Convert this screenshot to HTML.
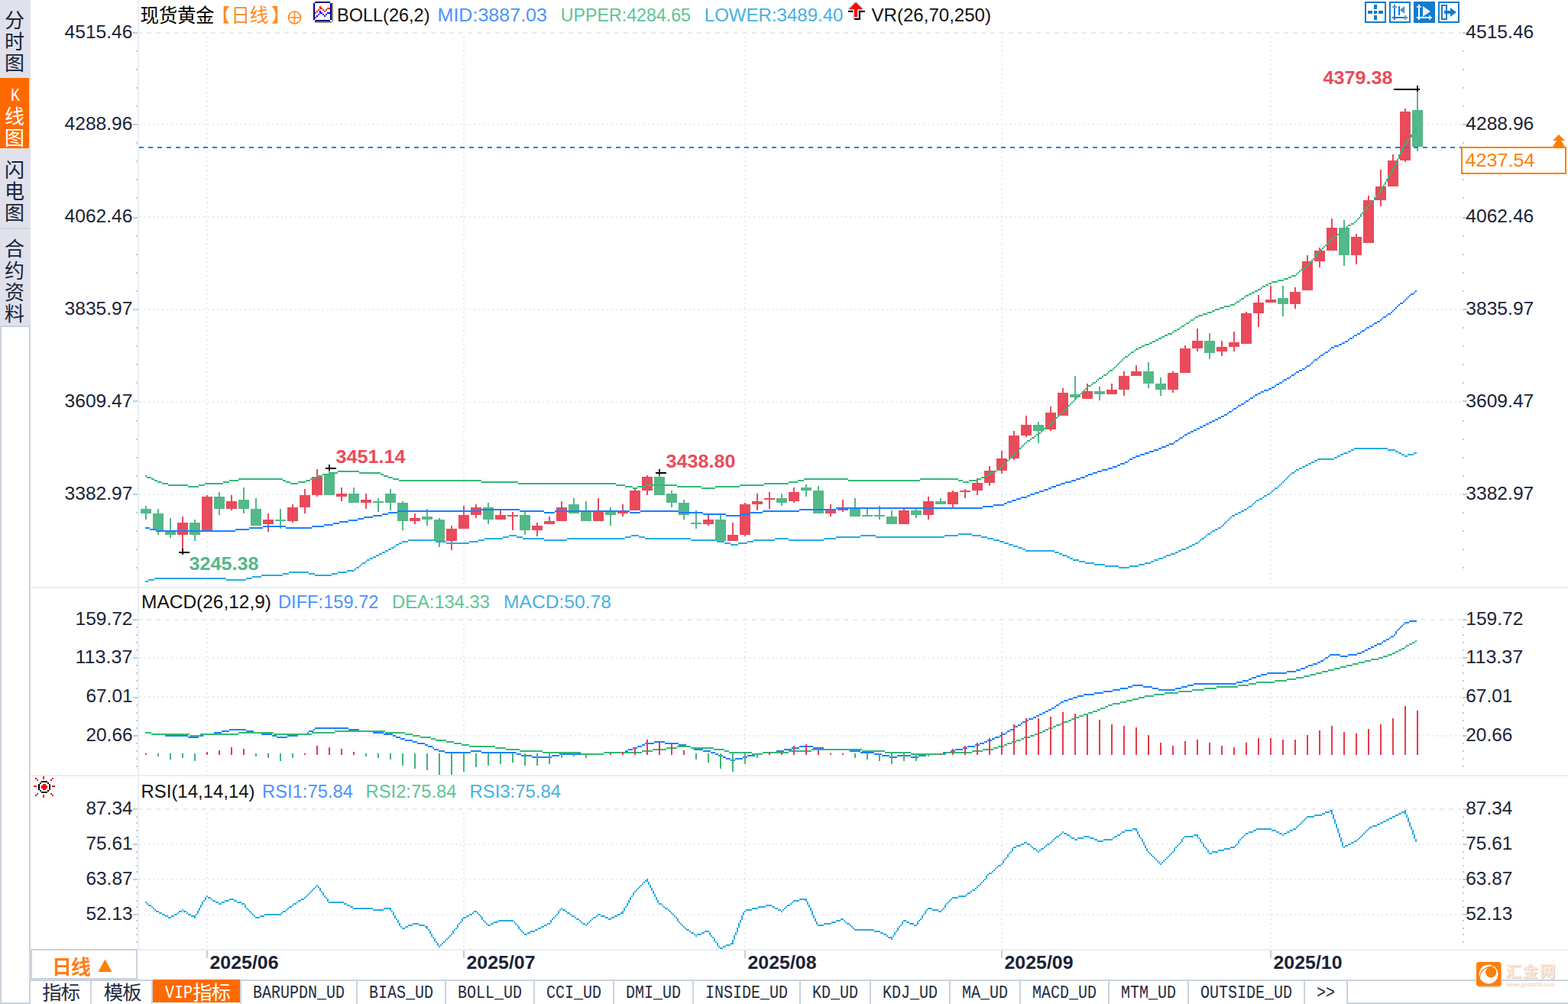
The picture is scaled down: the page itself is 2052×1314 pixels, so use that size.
<!DOCTYPE html>
<html><head><meta charset="utf-8"><title>chart</title>
<style>html,body{margin:0;padding:0;background:#fff}body{width:2052px;height:1314px;overflow:hidden;font-family:"Liberation Sans",sans-serif}</style>
</head><body>
<svg width="2052" height="1314" viewBox="0 0 2052 1314" font-family="Liberation Sans, sans-serif" style="display:block">
<rect x="0" y="0" width="2052" height="1314" fill="#fff" />
<g shape-rendering="crispEdges">
<rect x="40" y="768" width="2012" height="2" fill="#e9eef4" />
<rect x="40" y="1014" width="2012" height="2" fill="#e9eef4" />
<rect x="180" y="1242" width="1872" height="2" fill="#e9eef4" />
<line x1="180" y1="43" x2="1912" y2="43" stroke="#e6ebf0" stroke-width="2" stroke-dasharray="6 6"/>
<line x1="182" y1="163" x2="1912" y2="163" stroke="#e6ebf0" stroke-width="2" stroke-dasharray="2 4"/>
<line x1="182" y1="284" x2="1912" y2="284" stroke="#e6ebf0" stroke-width="2" stroke-dasharray="2 4"/>
<line x1="182" y1="405" x2="1912" y2="405" stroke="#e6ebf0" stroke-width="2" stroke-dasharray="2 4"/>
<line x1="182" y1="526" x2="1912" y2="526" stroke="#e6ebf0" stroke-width="2" stroke-dasharray="2 4"/>
<line x1="182" y1="647" x2="1912" y2="647" stroke="#e6ebf0" stroke-width="2" stroke-dasharray="2 4"/>
<line x1="180" y1="811" x2="1912" y2="811" stroke="#e6ebf0" stroke-width="2" stroke-dasharray="6 6"/>
<line x1="182" y1="861" x2="1912" y2="861" stroke="#e6ebf0" stroke-width="2" stroke-dasharray="2 4"/>
<line x1="182" y1="912" x2="1912" y2="912" stroke="#e6ebf0" stroke-width="2" stroke-dasharray="2 4"/>
<line x1="182" y1="963" x2="1912" y2="963" stroke="#e6ebf0" stroke-width="2" stroke-dasharray="2 4"/>
<line x1="180" y1="1059" x2="1912" y2="1059" stroke="#e6ebf0" stroke-width="2" stroke-dasharray="6 6"/>
<line x1="182" y1="1105" x2="1912" y2="1105" stroke="#e6ebf0" stroke-width="2" stroke-dasharray="2 4"/>
<line x1="182" y1="1151" x2="1912" y2="1151" stroke="#e6ebf0" stroke-width="2" stroke-dasharray="2 4"/>
<line x1="182" y1="1197" x2="1912" y2="1197" stroke="#e6ebf0" stroke-width="2" stroke-dasharray="2 4"/>
<rect x="180" y="0" width="2" height="1242" fill="#e9eef4" />
<line x1="271" y1="48" x2="271" y2="766" stroke="#e6ebf0" stroke-width="2" stroke-dasharray="2 4"/>
<line x1="271" y1="816" x2="271" y2="1012" stroke="#e6ebf0" stroke-width="2" stroke-dasharray="2 4"/>
<line x1="271" y1="1064" x2="271" y2="1240" stroke="#e6ebf0" stroke-width="2" stroke-dasharray="2 4"/>
<line x1="607" y1="48" x2="607" y2="766" stroke="#e6ebf0" stroke-width="2" stroke-dasharray="2 4"/>
<line x1="607" y1="816" x2="607" y2="1012" stroke="#e6ebf0" stroke-width="2" stroke-dasharray="2 4"/>
<line x1="607" y1="1064" x2="607" y2="1240" stroke="#e6ebf0" stroke-width="2" stroke-dasharray="2 4"/>
<line x1="975" y1="48" x2="975" y2="766" stroke="#e6ebf0" stroke-width="2" stroke-dasharray="2 4"/>
<line x1="975" y1="816" x2="975" y2="1012" stroke="#e6ebf0" stroke-width="2" stroke-dasharray="2 4"/>
<line x1="975" y1="1064" x2="975" y2="1240" stroke="#e6ebf0" stroke-width="2" stroke-dasharray="2 4"/>
<line x1="1311" y1="48" x2="1311" y2="766" stroke="#e6ebf0" stroke-width="2" stroke-dasharray="2 4"/>
<line x1="1311" y1="816" x2="1311" y2="1012" stroke="#e6ebf0" stroke-width="2" stroke-dasharray="2 4"/>
<line x1="1311" y1="1064" x2="1311" y2="1240" stroke="#e6ebf0" stroke-width="2" stroke-dasharray="2 4"/>
<line x1="1663" y1="48" x2="1663" y2="766" stroke="#e6ebf0" stroke-width="2" stroke-dasharray="2 4"/>
<line x1="1663" y1="816" x2="1663" y2="1012" stroke="#e6ebf0" stroke-width="2" stroke-dasharray="2 4"/>
<line x1="1663" y1="1064" x2="1663" y2="1240" stroke="#e6ebf0" stroke-width="2" stroke-dasharray="2 4"/>
<rect x="174" y="42" width="6" height="2" fill="#c5cad3" />
<rect x="1914" y="42" width="6" height="2" fill="#c5cad3" />
<rect x="178" y="66" width="2" height="2" fill="#c5cad3" />
<rect x="1914" y="66" width="2" height="2" fill="#c5cad3" />
<rect x="178" y="90" width="2" height="2" fill="#c5cad3" />
<rect x="1914" y="90" width="2" height="2" fill="#c5cad3" />
<rect x="178" y="114" width="2" height="2" fill="#c5cad3" />
<rect x="1914" y="114" width="2" height="2" fill="#c5cad3" />
<rect x="178" y="138" width="2" height="2" fill="#c5cad3" />
<rect x="1914" y="138" width="2" height="2" fill="#c5cad3" />
<rect x="174" y="162" width="6" height="2" fill="#c5cad3" />
<rect x="1914" y="162" width="6" height="2" fill="#c5cad3" />
<rect x="178" y="186" width="2" height="2" fill="#c5cad3" />
<rect x="1914" y="186" width="2" height="2" fill="#c5cad3" />
<rect x="178" y="210" width="2" height="2" fill="#c5cad3" />
<rect x="1914" y="210" width="2" height="2" fill="#c5cad3" />
<rect x="178" y="234" width="2" height="2" fill="#c5cad3" />
<rect x="1914" y="234" width="2" height="2" fill="#c5cad3" />
<rect x="178" y="258" width="2" height="2" fill="#c5cad3" />
<rect x="1914" y="258" width="2" height="2" fill="#c5cad3" />
<rect x="174" y="284" width="6" height="2" fill="#c5cad3" />
<rect x="1914" y="284" width="6" height="2" fill="#c5cad3" />
<rect x="178" y="308" width="2" height="2" fill="#c5cad3" />
<rect x="1914" y="308" width="2" height="2" fill="#c5cad3" />
<rect x="178" y="332" width="2" height="2" fill="#c5cad3" />
<rect x="1914" y="332" width="2" height="2" fill="#c5cad3" />
<rect x="178" y="356" width="2" height="2" fill="#c5cad3" />
<rect x="1914" y="356" width="2" height="2" fill="#c5cad3" />
<rect x="178" y="380" width="2" height="2" fill="#c5cad3" />
<rect x="1914" y="380" width="2" height="2" fill="#c5cad3" />
<rect x="174" y="404" width="6" height="2" fill="#c5cad3" />
<rect x="1914" y="404" width="6" height="2" fill="#c5cad3" />
<rect x="178" y="428" width="2" height="2" fill="#c5cad3" />
<rect x="1914" y="428" width="2" height="2" fill="#c5cad3" />
<rect x="178" y="452" width="2" height="2" fill="#c5cad3" />
<rect x="1914" y="452" width="2" height="2" fill="#c5cad3" />
<rect x="178" y="476" width="2" height="2" fill="#c5cad3" />
<rect x="1914" y="476" width="2" height="2" fill="#c5cad3" />
<rect x="178" y="500" width="2" height="2" fill="#c5cad3" />
<rect x="1914" y="500" width="2" height="2" fill="#c5cad3" />
<rect x="174" y="524" width="6" height="2" fill="#c5cad3" />
<rect x="1914" y="524" width="6" height="2" fill="#c5cad3" />
<rect x="178" y="550" width="2" height="2" fill="#c5cad3" />
<rect x="1914" y="550" width="2" height="2" fill="#c5cad3" />
<rect x="178" y="574" width="2" height="2" fill="#c5cad3" />
<rect x="1914" y="574" width="2" height="2" fill="#c5cad3" />
<rect x="178" y="598" width="2" height="2" fill="#c5cad3" />
<rect x="1914" y="598" width="2" height="2" fill="#c5cad3" />
<rect x="178" y="622" width="2" height="2" fill="#c5cad3" />
<rect x="1914" y="622" width="2" height="2" fill="#c5cad3" />
<rect x="174" y="646" width="6" height="2" fill="#c5cad3" />
<rect x="1914" y="646" width="6" height="2" fill="#c5cad3" />
<rect x="178" y="670" width="2" height="2" fill="#c5cad3" />
<rect x="1914" y="670" width="2" height="2" fill="#c5cad3" />
<rect x="178" y="694" width="2" height="2" fill="#c5cad3" />
<rect x="1914" y="694" width="2" height="2" fill="#c5cad3" />
<rect x="178" y="718" width="2" height="2" fill="#c5cad3" />
<rect x="1914" y="718" width="2" height="2" fill="#c5cad3" />
<rect x="178" y="742" width="2" height="2" fill="#c5cad3" />
<rect x="1914" y="742" width="2" height="2" fill="#c5cad3" />
<rect x="174" y="810" width="6" height="2" fill="#c5cad3" />
<rect x="1914" y="810" width="6" height="2" fill="#c5cad3" />
<rect x="178" y="820" width="2" height="2" fill="#c5cad3" />
<rect x="1914" y="820" width="2" height="2" fill="#c5cad3" />
<rect x="178" y="830" width="2" height="2" fill="#c5cad3" />
<rect x="1914" y="830" width="2" height="2" fill="#c5cad3" />
<rect x="178" y="840" width="2" height="2" fill="#c5cad3" />
<rect x="1914" y="840" width="2" height="2" fill="#c5cad3" />
<rect x="178" y="850" width="2" height="2" fill="#c5cad3" />
<rect x="1914" y="850" width="2" height="2" fill="#c5cad3" />
<rect x="174" y="860" width="6" height="2" fill="#c5cad3" />
<rect x="1914" y="860" width="6" height="2" fill="#c5cad3" />
<rect x="178" y="870" width="2" height="2" fill="#c5cad3" />
<rect x="1914" y="870" width="2" height="2" fill="#c5cad3" />
<rect x="178" y="880" width="2" height="2" fill="#c5cad3" />
<rect x="1914" y="880" width="2" height="2" fill="#c5cad3" />
<rect x="178" y="890" width="2" height="2" fill="#c5cad3" />
<rect x="1914" y="890" width="2" height="2" fill="#c5cad3" />
<rect x="178" y="900" width="2" height="2" fill="#c5cad3" />
<rect x="1914" y="900" width="2" height="2" fill="#c5cad3" />
<rect x="174" y="912" width="6" height="2" fill="#c5cad3" />
<rect x="1914" y="912" width="6" height="2" fill="#c5cad3" />
<rect x="178" y="922" width="2" height="2" fill="#c5cad3" />
<rect x="1914" y="922" width="2" height="2" fill="#c5cad3" />
<rect x="178" y="932" width="2" height="2" fill="#c5cad3" />
<rect x="1914" y="932" width="2" height="2" fill="#c5cad3" />
<rect x="178" y="942" width="2" height="2" fill="#c5cad3" />
<rect x="1914" y="942" width="2" height="2" fill="#c5cad3" />
<rect x="178" y="952" width="2" height="2" fill="#c5cad3" />
<rect x="1914" y="952" width="2" height="2" fill="#c5cad3" />
<rect x="174" y="962" width="6" height="2" fill="#c5cad3" />
<rect x="1914" y="962" width="6" height="2" fill="#c5cad3" />
<rect x="178" y="972" width="2" height="2" fill="#c5cad3" />
<rect x="1914" y="972" width="2" height="2" fill="#c5cad3" />
<rect x="178" y="982" width="2" height="2" fill="#c5cad3" />
<rect x="1914" y="982" width="2" height="2" fill="#c5cad3" />
<rect x="178" y="992" width="2" height="2" fill="#c5cad3" />
<rect x="1914" y="992" width="2" height="2" fill="#c5cad3" />
<rect x="178" y="1002" width="2" height="2" fill="#c5cad3" />
<rect x="1914" y="1002" width="2" height="2" fill="#c5cad3" />
<rect x="174" y="1058" width="6" height="2" fill="#c5cad3" />
<rect x="1914" y="1058" width="6" height="2" fill="#c5cad3" />
<rect x="178" y="1068" width="2" height="2" fill="#c5cad3" />
<rect x="1914" y="1068" width="2" height="2" fill="#c5cad3" />
<rect x="178" y="1076" width="2" height="2" fill="#c5cad3" />
<rect x="1914" y="1076" width="2" height="2" fill="#c5cad3" />
<rect x="178" y="1086" width="2" height="2" fill="#c5cad3" />
<rect x="1914" y="1086" width="2" height="2" fill="#c5cad3" />
<rect x="178" y="1094" width="2" height="2" fill="#c5cad3" />
<rect x="1914" y="1094" width="2" height="2" fill="#c5cad3" />
<rect x="174" y="1104" width="6" height="2" fill="#c5cad3" />
<rect x="1914" y="1104" width="6" height="2" fill="#c5cad3" />
<rect x="178" y="1114" width="2" height="2" fill="#c5cad3" />
<rect x="1914" y="1114" width="2" height="2" fill="#c5cad3" />
<rect x="178" y="1122" width="2" height="2" fill="#c5cad3" />
<rect x="1914" y="1122" width="2" height="2" fill="#c5cad3" />
<rect x="178" y="1132" width="2" height="2" fill="#c5cad3" />
<rect x="1914" y="1132" width="2" height="2" fill="#c5cad3" />
<rect x="178" y="1140" width="2" height="2" fill="#c5cad3" />
<rect x="1914" y="1140" width="2" height="2" fill="#c5cad3" />
<rect x="174" y="1150" width="6" height="2" fill="#c5cad3" />
<rect x="1914" y="1150" width="6" height="2" fill="#c5cad3" />
<rect x="178" y="1160" width="2" height="2" fill="#c5cad3" />
<rect x="1914" y="1160" width="2" height="2" fill="#c5cad3" />
<rect x="178" y="1168" width="2" height="2" fill="#c5cad3" />
<rect x="1914" y="1168" width="2" height="2" fill="#c5cad3" />
<rect x="178" y="1178" width="2" height="2" fill="#c5cad3" />
<rect x="1914" y="1178" width="2" height="2" fill="#c5cad3" />
<rect x="178" y="1186" width="2" height="2" fill="#c5cad3" />
<rect x="1914" y="1186" width="2" height="2" fill="#c5cad3" />
<rect x="174" y="1196" width="6" height="2" fill="#c5cad3" />
<rect x="1914" y="1196" width="6" height="2" fill="#c5cad3" />
<rect x="178" y="1204" width="2" height="2" fill="#c5cad3" />
<rect x="1914" y="1204" width="2" height="2" fill="#c5cad3" />
<rect x="178" y="1214" width="2" height="2" fill="#c5cad3" />
<rect x="1914" y="1214" width="2" height="2" fill="#c5cad3" />
<rect x="178" y="1222" width="2" height="2" fill="#c5cad3" />
<rect x="1914" y="1222" width="2" height="2" fill="#c5cad3" />
<rect x="178" y="1232" width="2" height="2" fill="#c5cad3" />
<rect x="1914" y="1232" width="2" height="2" fill="#c5cad3" />
</g>
<text x="173.5" y="50" font-size="24" fill="#1b2236" text-anchor="end" textLength="89" lengthAdjust="spacingAndGlyphs" >4515.46</text>
<text x="1918.3" y="50" font-size="24" fill="#1b2236" textLength="89" lengthAdjust="spacingAndGlyphs" >4515.46</text>
<text x="173.5" y="170" font-size="24" fill="#1b2236" text-anchor="end" textLength="89" lengthAdjust="spacingAndGlyphs" >4288.96</text>
<text x="1918.3" y="170" font-size="24" fill="#1b2236" textLength="89" lengthAdjust="spacingAndGlyphs" >4288.96</text>
<text x="173.5" y="291" font-size="24" fill="#1b2236" text-anchor="end" textLength="89" lengthAdjust="spacingAndGlyphs" >4062.46</text>
<text x="1918.3" y="291" font-size="24" fill="#1b2236" textLength="89" lengthAdjust="spacingAndGlyphs" >4062.46</text>
<text x="173.5" y="412" font-size="24" fill="#1b2236" text-anchor="end" textLength="89" lengthAdjust="spacingAndGlyphs" >3835.97</text>
<text x="1918.3" y="412" font-size="24" fill="#1b2236" textLength="89" lengthAdjust="spacingAndGlyphs" >3835.97</text>
<text x="173.5" y="533" font-size="24" fill="#1b2236" text-anchor="end" textLength="89" lengthAdjust="spacingAndGlyphs" >3609.47</text>
<text x="1918.3" y="533" font-size="24" fill="#1b2236" textLength="89" lengthAdjust="spacingAndGlyphs" >3609.47</text>
<text x="173.5" y="654" font-size="24" fill="#1b2236" text-anchor="end" textLength="89" lengthAdjust="spacingAndGlyphs" >3382.97</text>
<text x="1918.3" y="654" font-size="24" fill="#1b2236" textLength="89" lengthAdjust="spacingAndGlyphs" >3382.97</text>
<text x="173.5" y="818" font-size="24" fill="#1b2236" text-anchor="end" textLength="75" lengthAdjust="spacingAndGlyphs" >159.72</text>
<text x="1918.3" y="818" font-size="24" fill="#1b2236" textLength="75" lengthAdjust="spacingAndGlyphs" >159.72</text>
<text x="173.5" y="868" font-size="24" fill="#1b2236" text-anchor="end" textLength="75" lengthAdjust="spacingAndGlyphs" >113.37</text>
<text x="1918.3" y="868" font-size="24" fill="#1b2236" textLength="75" lengthAdjust="spacingAndGlyphs" >113.37</text>
<text x="173.5" y="919" font-size="24" fill="#1b2236" text-anchor="end" textLength="61" lengthAdjust="spacingAndGlyphs" >67.01</text>
<text x="1918.3" y="919" font-size="24" fill="#1b2236" textLength="61" lengthAdjust="spacingAndGlyphs" >67.01</text>
<text x="173.5" y="970" font-size="24" fill="#1b2236" text-anchor="end" textLength="61" lengthAdjust="spacingAndGlyphs" >20.66</text>
<text x="1918.3" y="970" font-size="24" fill="#1b2236" textLength="61" lengthAdjust="spacingAndGlyphs" >20.66</text>
<text x="173.5" y="1066" font-size="24" fill="#1b2236" text-anchor="end" textLength="61" lengthAdjust="spacingAndGlyphs" >87.34</text>
<text x="1918.3" y="1066" font-size="24" fill="#1b2236" textLength="61" lengthAdjust="spacingAndGlyphs" >87.34</text>
<text x="173.5" y="1112" font-size="24" fill="#1b2236" text-anchor="end" textLength="61" lengthAdjust="spacingAndGlyphs" >75.61</text>
<text x="1918.3" y="1112" font-size="24" fill="#1b2236" textLength="61" lengthAdjust="spacingAndGlyphs" >75.61</text>
<text x="173.5" y="1158" font-size="24" fill="#1b2236" text-anchor="end" textLength="61" lengthAdjust="spacingAndGlyphs" >63.87</text>
<text x="1918.3" y="1158" font-size="24" fill="#1b2236" textLength="61" lengthAdjust="spacingAndGlyphs" >63.87</text>
<text x="173.5" y="1204" font-size="24" fill="#1b2236" text-anchor="end" textLength="61" lengthAdjust="spacingAndGlyphs" >52.13</text>
<text x="1918.3" y="1204" font-size="24" fill="#1b2236" textLength="61" lengthAdjust="spacingAndGlyphs" >52.13</text>
<g shape-rendering="crispEdges">
<rect x="190" y="662" width="2" height="18" fill="#54b888" />
<rect x="184" y="666" width="14" height="6" fill="#54b888" />
<rect x="206" y="666" width="2" height="34" fill="#54b888" />
<rect x="200" y="672" width="14" height="22" fill="#54b888" />
<rect x="222" y="678" width="2" height="26" fill="#54b888" />
<rect x="216" y="694" width="14" height="6" fill="#54b888" />
<rect x="238" y="676" width="2" height="42" fill="#e94b5b" />
<rect x="232" y="684" width="14" height="16" fill="#e94b5b" />
<rect x="254" y="680" width="2" height="28" fill="#54b888" />
<rect x="248" y="684" width="14" height="16" fill="#54b888" />
<rect x="270" y="648" width="2" height="46" fill="#e94b5b" />
<rect x="264" y="650" width="14" height="44" fill="#e94b5b" />
<rect x="286" y="644" width="2" height="30" fill="#54b888" />
<rect x="280" y="650" width="14" height="16" fill="#54b888" />
<rect x="302" y="648" width="2" height="20" fill="#e94b5b" />
<rect x="296" y="656" width="14" height="10" fill="#e94b5b" />
<rect x="318" y="638" width="2" height="34" fill="#54b888" />
<rect x="312" y="654" width="14" height="12" fill="#54b888" />
<rect x="334" y="652" width="2" height="36" fill="#54b888" />
<rect x="328" y="666" width="14" height="22" fill="#54b888" />
<rect x="350" y="672" width="2" height="24" fill="#e94b5b" />
<rect x="344" y="680" width="14" height="6" fill="#e94b5b" />
<rect x="366" y="666" width="2" height="26" fill="#54b888" />
<rect x="360" y="680" width="14" height="2" fill="#54b888" />
<rect x="382" y="660" width="2" height="24" fill="#e94b5b" />
<rect x="376" y="664" width="14" height="18" fill="#e94b5b" />
<rect x="398" y="640" width="2" height="32" fill="#e94b5b" />
<rect x="392" y="648" width="14" height="16" fill="#e94b5b" />
<rect x="414" y="614" width="2" height="36" fill="#e94b5b" />
<rect x="408" y="624" width="14" height="24" fill="#e94b5b" />
<rect x="430" y="614" width="2" height="34" fill="#54b888" />
<rect x="424" y="620" width="14" height="28" fill="#54b888" />
<rect x="446" y="638" width="2" height="18" fill="#e94b5b" />
<rect x="440" y="646" width="14" height="4" fill="#e94b5b" />
<rect x="462" y="638" width="2" height="20" fill="#54b888" />
<rect x="456" y="646" width="14" height="12" fill="#54b888" />
<rect x="478" y="646" width="2" height="20" fill="#e94b5b" />
<rect x="472" y="654" width="14" height="4" fill="#e94b5b" />
<rect x="494" y="652" width="2" height="18" fill="#54b888" />
<rect x="488" y="656" width="14" height="2" fill="#54b888" />
<rect x="510" y="640" width="2" height="28" fill="#54b888" />
<rect x="504" y="646" width="14" height="12" fill="#54b888" />
<rect x="526" y="656" width="2" height="38" fill="#54b888" />
<rect x="520" y="658" width="14" height="24" fill="#54b888" />
<rect x="542" y="672" width="2" height="14" fill="#e94b5b" />
<rect x="536" y="678" width="14" height="4" fill="#e94b5b" />
<rect x="558" y="666" width="2" height="22" fill="#54b888" />
<rect x="552" y="676" width="14" height="4" fill="#54b888" />
<rect x="574" y="678" width="2" height="38" fill="#54b888" />
<rect x="568" y="680" width="14" height="28" fill="#54b888" />
<rect x="590" y="688" width="2" height="32" fill="#e94b5b" />
<rect x="584" y="692" width="14" height="16" fill="#e94b5b" />
<rect x="606" y="662" width="2" height="30" fill="#e94b5b" />
<rect x="600" y="674" width="14" height="18" fill="#e94b5b" />
<rect x="622" y="660" width="2" height="18" fill="#e94b5b" />
<rect x="616" y="664" width="14" height="10" fill="#e94b5b" />
<rect x="638" y="658" width="2" height="28" fill="#54b888" />
<rect x="632" y="664" width="14" height="16" fill="#54b888" />
<rect x="654" y="668" width="2" height="12" fill="#e94b5b" />
<rect x="648" y="674" width="14" height="6" fill="#e94b5b" />
<rect x="670" y="670" width="2" height="24" fill="#e94b5b" />
<rect x="664" y="674" width="14" height="2" fill="#e94b5b" />
<rect x="686" y="670" width="2" height="30" fill="#54b888" />
<rect x="680" y="674" width="14" height="20" fill="#54b888" />
<rect x="702" y="684" width="2" height="18" fill="#e94b5b" />
<rect x="696" y="688" width="14" height="6" fill="#e94b5b" />
<rect x="718" y="676" width="2" height="10" fill="#e94b5b" />
<rect x="712" y="682" width="14" height="4" fill="#e94b5b" />
<rect x="734" y="656" width="2" height="26" fill="#e94b5b" />
<rect x="728" y="664" width="14" height="18" fill="#e94b5b" />
<rect x="750" y="652" width="2" height="20" fill="#54b888" />
<rect x="744" y="660" width="14" height="12" fill="#54b888" />
<rect x="766" y="656" width="2" height="26" fill="#54b888" />
<rect x="760" y="670" width="14" height="12" fill="#54b888" />
<rect x="782" y="652" width="2" height="30" fill="#e94b5b" />
<rect x="776" y="670" width="14" height="12" fill="#e94b5b" />
<rect x="798" y="664" width="2" height="24" fill="#54b888" />
<rect x="792" y="670" width="14" height="4" fill="#54b888" />
<rect x="814" y="660" width="2" height="16" fill="#e94b5b" />
<rect x="808" y="670" width="14" height="2" fill="#e94b5b" />
<rect x="830" y="640" width="2" height="28" fill="#e94b5b" />
<rect x="824" y="642" width="14" height="26" fill="#e94b5b" />
<rect x="846" y="622" width="2" height="26" fill="#e94b5b" />
<rect x="840" y="624" width="14" height="18" fill="#e94b5b" />
<rect x="862" y="620" width="2" height="28" fill="#54b888" />
<rect x="856" y="624" width="14" height="24" fill="#54b888" />
<rect x="878" y="642" width="2" height="22" fill="#54b888" />
<rect x="872" y="646" width="14" height="12" fill="#54b888" />
<rect x="894" y="654" width="2" height="26" fill="#54b888" />
<rect x="888" y="658" width="14" height="16" fill="#54b888" />
<rect x="910" y="668" width="2" height="24" fill="#54b888" />
<rect x="904" y="684" width="14" height="2" fill="#54b888" />
<rect x="926" y="674" width="2" height="14" fill="#e94b5b" />
<rect x="920" y="680" width="14" height="6" fill="#e94b5b" />
<rect x="942" y="674" width="2" height="34" fill="#54b888" />
<rect x="936" y="680" width="14" height="28" fill="#54b888" />
<rect x="958" y="684" width="2" height="24" fill="#e94b5b" />
<rect x="952" y="700" width="14" height="8" fill="#e94b5b" />
<rect x="974" y="658" width="2" height="44" fill="#e94b5b" />
<rect x="968" y="660" width="14" height="40" fill="#e94b5b" />
<rect x="990" y="646" width="2" height="22" fill="#e94b5b" />
<rect x="984" y="656" width="14" height="4" fill="#e94b5b" />
<rect x="1006" y="644" width="2" height="22" fill="#e94b5b" />
<rect x="1000" y="652" width="14" height="2" fill="#e94b5b" />
<rect x="1022" y="646" width="2" height="16" fill="#54b888" />
<rect x="1016" y="652" width="14" height="6" fill="#54b888" />
<rect x="1038" y="638" width="2" height="20" fill="#e94b5b" />
<rect x="1032" y="644" width="14" height="12" fill="#e94b5b" />
<rect x="1054" y="634" width="2" height="16" fill="#54b888" />
<rect x="1048" y="638" width="14" height="4" fill="#54b888" />
<rect x="1070" y="636" width="2" height="36" fill="#54b888" />
<rect x="1064" y="642" width="14" height="30" fill="#54b888" />
<rect x="1086" y="660" width="2" height="16" fill="#e94b5b" />
<rect x="1080" y="666" width="14" height="6" fill="#e94b5b" />
<rect x="1102" y="654" width="2" height="16" fill="#e94b5b" />
<rect x="1096" y="664" width="14" height="4" fill="#e94b5b" />
<rect x="1118" y="652" width="2" height="24" fill="#54b888" />
<rect x="1112" y="664" width="14" height="12" fill="#54b888" />
<rect x="1134" y="664" width="2" height="12" fill="#54b888" />
<rect x="1128" y="674" width="14" height="2" fill="#54b888" />
<rect x="1150" y="662" width="2" height="18" fill="#54b888" />
<rect x="1144" y="674" width="14" height="2" fill="#54b888" />
<rect x="1166" y="668" width="2" height="18" fill="#54b888" />
<rect x="1160" y="676" width="14" height="10" fill="#54b888" />
<rect x="1182" y="666" width="2" height="20" fill="#e94b5b" />
<rect x="1176" y="668" width="14" height="18" fill="#e94b5b" />
<rect x="1198" y="666" width="2" height="12" fill="#54b888" />
<rect x="1192" y="668" width="14" height="6" fill="#54b888" />
<rect x="1214" y="650" width="2" height="30" fill="#e94b5b" />
<rect x="1208" y="656" width="14" height="18" fill="#e94b5b" />
<rect x="1230" y="652" width="2" height="8" fill="#54b888" />
<rect x="1224" y="656" width="14" height="4" fill="#54b888" />
<rect x="1246" y="642" width="2" height="22" fill="#e94b5b" />
<rect x="1240" y="644" width="14" height="16" fill="#e94b5b" />
<rect x="1262" y="640" width="2" height="12" fill="#e94b5b" />
<rect x="1256" y="642" width="14" height="2" fill="#e94b5b" />
<rect x="1278" y="626" width="2" height="22" fill="#e94b5b" />
<rect x="1272" y="632" width="14" height="10" fill="#e94b5b" />
<rect x="1294" y="610" width="2" height="26" fill="#e94b5b" />
<rect x="1288" y="616" width="14" height="16" fill="#e94b5b" />
<rect x="1310" y="590" width="2" height="30" fill="#e94b5b" />
<rect x="1304" y="600" width="14" height="16" fill="#e94b5b" />
<rect x="1326" y="564" width="2" height="38" fill="#e94b5b" />
<rect x="1320" y="570" width="14" height="30" fill="#e94b5b" />
<rect x="1342" y="544" width="2" height="28" fill="#e94b5b" />
<rect x="1336" y="556" width="14" height="14" fill="#e94b5b" />
<rect x="1358" y="552" width="2" height="28" fill="#54b888" />
<rect x="1352" y="556" width="14" height="8" fill="#54b888" />
<rect x="1374" y="532" width="2" height="32" fill="#e94b5b" />
<rect x="1368" y="540" width="14" height="22" fill="#e94b5b" />
<rect x="1390" y="508" width="2" height="36" fill="#e94b5b" />
<rect x="1384" y="514" width="14" height="30" fill="#e94b5b" />
<rect x="1406" y="492" width="2" height="30" fill="#54b888" />
<rect x="1400" y="516" width="14" height="4" fill="#54b888" />
<rect x="1422" y="502" width="2" height="20" fill="#e94b5b" />
<rect x="1416" y="512" width="14" height="10" fill="#e94b5b" />
<rect x="1438" y="506" width="2" height="18" fill="#54b888" />
<rect x="1432" y="512" width="14" height="4" fill="#54b888" />
<rect x="1454" y="502" width="2" height="14" fill="#e94b5b" />
<rect x="1448" y="510" width="14" height="6" fill="#e94b5b" />
<rect x="1470" y="486" width="2" height="32" fill="#e94b5b" />
<rect x="1464" y="492" width="14" height="18" fill="#e94b5b" />
<rect x="1486" y="478" width="2" height="14" fill="#e94b5b" />
<rect x="1480" y="486" width="14" height="6" fill="#e94b5b" />
<rect x="1502" y="474" width="2" height="34" fill="#54b888" />
<rect x="1496" y="486" width="14" height="16" fill="#54b888" />
<rect x="1518" y="494" width="2" height="24" fill="#54b888" />
<rect x="1512" y="502" width="14" height="8" fill="#54b888" />
<rect x="1534" y="486" width="2" height="28" fill="#e94b5b" />
<rect x="1528" y="488" width="14" height="22" fill="#e94b5b" />
<rect x="1550" y="452" width="2" height="36" fill="#e94b5b" />
<rect x="1544" y="456" width="14" height="32" fill="#e94b5b" />
<rect x="1566" y="430" width="2" height="30" fill="#e94b5b" />
<rect x="1560" y="446" width="14" height="10" fill="#e94b5b" />
<rect x="1582" y="436" width="2" height="34" fill="#54b888" />
<rect x="1576" y="446" width="14" height="16" fill="#54b888" />
<rect x="1598" y="446" width="2" height="20" fill="#e94b5b" />
<rect x="1592" y="454" width="14" height="6" fill="#e94b5b" />
<rect x="1614" y="434" width="2" height="26" fill="#e94b5b" />
<rect x="1608" y="448" width="14" height="6" fill="#e94b5b" />
<rect x="1630" y="408" width="2" height="42" fill="#e94b5b" />
<rect x="1624" y="410" width="14" height="40" fill="#e94b5b" />
<rect x="1646" y="386" width="2" height="42" fill="#e94b5b" />
<rect x="1640" y="396" width="14" height="14" fill="#e94b5b" />
<rect x="1662" y="374" width="2" height="22" fill="#e94b5b" />
<rect x="1656" y="392" width="14" height="4" fill="#e94b5b" />
<rect x="1678" y="374" width="2" height="40" fill="#54b888" />
<rect x="1672" y="390" width="14" height="8" fill="#54b888" />
<rect x="1694" y="376" width="2" height="28" fill="#e94b5b" />
<rect x="1688" y="382" width="14" height="16" fill="#e94b5b" />
<rect x="1710" y="334" width="2" height="46" fill="#e94b5b" />
<rect x="1704" y="342" width="14" height="38" fill="#e94b5b" />
<rect x="1726" y="324" width="2" height="26" fill="#e94b5b" />
<rect x="1720" y="328" width="14" height="14" fill="#e94b5b" />
<rect x="1742" y="286" width="2" height="42" fill="#e94b5b" />
<rect x="1736" y="298" width="14" height="30" fill="#e94b5b" />
<rect x="1758" y="288" width="2" height="60" fill="#54b888" />
<rect x="1752" y="298" width="14" height="36" fill="#54b888" />
<rect x="1774" y="306" width="2" height="40" fill="#e94b5b" />
<rect x="1768" y="310" width="14" height="24" fill="#e94b5b" />
<rect x="1790" y="256" width="2" height="62" fill="#e94b5b" />
<rect x="1784" y="262" width="14" height="56" fill="#e94b5b" />
<rect x="1806" y="222" width="2" height="48" fill="#e94b5b" />
<rect x="1800" y="244" width="14" height="18" fill="#e94b5b" />
<rect x="1822" y="202" width="2" height="42" fill="#e94b5b" />
<rect x="1816" y="210" width="14" height="34" fill="#e94b5b" />
<rect x="1838" y="142" width="2" height="70" fill="#e94b5b" />
<rect x="1832" y="146" width="14" height="64" fill="#e94b5b" />
<rect x="1854" y="120" width="2" height="78" fill="#54b888" />
<rect x="1848" y="144" width="14" height="48" fill="#54b888" />
</g>
<path d="M190 760h4v2h-4zM194 758h8v2h-8zM202 756h94v2h-94zM296 758h26v2h-26zM322 756h8v2h-8zM330 754h12v2h-12zM342 752h28v2h-28zM370 750h8v2h-8zM378 748h26v2h-26zM404 750h8v2h-8zM412 752h22v2h-22zM434 750h8v2h-8zM442 748h12v2h-12zM454 746h10v2h-10zM464 744h2v2h-2zM466 742h4v2h-4zM470 740h2v2h-2zM472 738h2v2h-2zM474 736h4v2h-4zM478 734h2v2h-2zM480 732h4v2h-4zM484 730h4v2h-4zM488 728h4v2h-4zM492 726h4v2h-4zM496 724h4v2h-4zM500 722h4v2h-4zM504 720h4v2h-4zM508 718h4v2h-4zM512 716h4v2h-4zM516 714h2v2h-2zM518 712h4v2h-4zM522 710h4v2h-4zM526 708h8v2h-8zM534 706h36v2h-36zM570 708h14v2h-14zM584 710h30v2h-30zM614 708h12v2h-12zM626 706h8v2h-8zM634 704h24v2h-24zM658 702h8v2h-8zM666 700h10v2h-10zM676 702h8v2h-8zM684 704h28v2h-28zM712 706h30v2h-30zM742 704h76v2h-76zM818 702h8v2h-8zM826 700h10v2h-10zM836 702h8v2h-8zM844 704h60v2h-60zM904 706h34v2h-34zM938 708h10v2h-10zM948 710h8v2h-8zM956 712h10v2h-10zM966 710h12v2h-12zM978 708h8v2h-8zM986 706h28v2h-28zM1014 704h18v2h-18zM1032 706h46v2h-46zM1078 704h16v2h-16zM1094 702h32v2h-32zM1126 700h20v2h-20zM1146 702h90v2h-90zM1236 700h18v2h-18zM1254 698h18v2h-18zM1272 700h12v2h-12zM1284 702h8v2h-8zM1292 704h8v2h-8zM1300 706h8v2h-8zM1308 708h6v2h-6zM1314 710h6v2h-6zM1320 712h6v2h-6zM1326 714h6v2h-6zM1332 716h6v2h-6zM1338 718h4v2h-4zM1342 720h38v2h-38zM1380 722h6v2h-6zM1386 724h4v2h-4zM1390 726h6v2h-6zM1396 728h4v2h-4zM1400 730h4v2h-4zM1404 732h8v2h-8zM1412 734h8v2h-8zM1420 736h12v2h-12zM1432 738h14v2h-14zM1446 740h18v2h-18zM1464 742h14v2h-14zM1478 740h12v2h-12zM1490 738h8v2h-8zM1498 736h8v2h-8zM1506 734h4v2h-4zM1510 732h6v2h-6zM1516 730h6v2h-6zM1522 728h4v2h-4zM1526 726h6v2h-6zM1532 724h6v2h-6zM1538 722h4v2h-4zM1542 720h4v2h-4zM1546 718h6v2h-6zM1552 716h4v2h-4zM1556 714h4v2h-4zM1560 712h4v2h-4zM1564 710h4v2h-4zM1568 708h2v2h-2zM1570 706h2v2h-2zM1572 704h4v2h-4zM1576 702h2v2h-2zM1578 700h2v2h-2zM1580 698h4v2h-4zM1584 696h2v2h-2zM1586 694h4v2h-4zM1590 692h4v2h-4zM1594 690h4v2h-4zM1598 688h2v2h-2zM1600 686h2v2h-2zM1602 684h2v2h-2zM1604 682h2v2h-2zM1606 680h2v2h-2zM1608 678h2v2h-2zM1610 676h2v2h-2zM1612 674h4v2h-4zM1616 672h4v2h-4zM1620 670h4v2h-4zM1624 668h4v2h-4zM1628 666h4v2h-4zM1632 664h2v2h-2zM1634 662h4v2h-4zM1638 660h2v2h-2zM1640 658h2v2h-2zM1642 656h2v2h-2zM1644 654h4v2h-4zM1648 652h4v2h-4zM1652 650h2v2h-2zM1654 648h4v2h-4zM1658 646h4v2h-4zM1662 644h2v2h-2zM1664 642h2v2h-2zM1666 640h2v2h-2zM1668 638h4v2h-4zM1672 636h2v2h-2zM1674 634h2v2h-2zM1676 632h2v2h-2zM1678 630h2v2h-2zM1680 628h2v2h-2zM1682 626h2v2h-2zM1684 624h2v2h-2zM1686 622h2v2h-2zM1688 620h2v2h-2zM1690 618h4v2h-4zM1694 616h2v2h-2zM1696 614h4v2h-4zM1700 612h4v2h-4zM1704 610h4v2h-4zM1708 608h4v2h-4zM1712 606h4v2h-4zM1716 604h4v2h-4zM1720 602h4v2h-4zM1724 600h22v2h-22zM1746 598h4v2h-4zM1750 596h4v2h-4zM1754 594h4v2h-4zM1758 592h6v2h-6zM1764 590h4v2h-4zM1768 588h4v2h-4zM1772 586h44v2h-44zM1816 588h10v2h-10zM1826 590h4v2h-4zM1830 592h4v2h-4zM1834 594h4v2h-4zM1838 596h4v2h-4zM1842 594h8v2h-8zM1850 592h4v2h-4z" fill="#28aae1" shape-rendering="crispEdges" />
<path d="M190 690h6v2h-6zM196 692h8v2h-8zM204 694h104v2h-104zM308 692h18v2h-18zM326 690h18v2h-18zM344 688h30v2h-30zM374 690h34v2h-34zM408 688h16v2h-16zM424 686h12v2h-12zM436 684h8v2h-8zM444 682h12v2h-12zM456 680h12v2h-12zM468 678h8v2h-8zM476 676h12v2h-12zM488 674h12v2h-12zM500 672h8v2h-8zM508 670h12v2h-12zM520 668h110v2h-110zM630 666h50v2h-50zM680 668h32v2h-32zM712 670h14v2h-14zM726 668h98v2h-98zM824 670h14v2h-14zM838 668h50v2h-50zM888 670h32v2h-32zM920 672h30v2h-30zM950 674h18v2h-18zM968 672h14v2h-14zM982 670h16v2h-16zM998 668h48v2h-48zM1046 666h48v2h-48zM1094 664h192v2h-192zM1286 662h14v2h-14zM1300 660h14v2h-14zM1314 658h4v2h-4zM1318 656h6v2h-6zM1324 654h6v2h-6zM1330 652h6v2h-6zM1336 650h8v2h-8zM1344 648h4v2h-4zM1348 646h6v2h-6zM1354 644h6v2h-6zM1360 642h6v2h-6zM1366 640h6v2h-6zM1372 638h4v2h-4zM1376 636h6v2h-6zM1382 634h6v2h-6zM1388 632h6v2h-6zM1394 630h8v2h-8zM1402 628h6v2h-6zM1408 626h6v2h-6zM1414 624h6v2h-6zM1420 622h4v2h-4zM1424 620h6v2h-6zM1430 618h6v2h-6zM1436 616h6v2h-6zM1442 614h8v2h-8zM1450 612h6v2h-6zM1456 610h6v2h-6zM1462 608h4v2h-4zM1466 606h6v2h-6zM1472 604h4v2h-4zM1476 602h2v2h-2zM1478 600h4v2h-4zM1482 598h4v2h-4zM1486 596h6v2h-6zM1492 594h6v2h-6zM1498 592h6v2h-6zM1504 590h6v2h-6zM1510 588h6v2h-6zM1516 586h4v2h-4zM1520 584h6v2h-6zM1526 582h4v2h-4zM1530 580h6v2h-6zM1536 578h2v2h-2zM1538 576h4v2h-4zM1542 574h2v2h-2zM1544 572h4v2h-4zM1548 570h2v2h-2zM1550 568h4v2h-4zM1554 566h4v2h-4zM1558 564h4v2h-4zM1562 562h4v2h-4zM1566 560h4v2h-4zM1570 558h4v2h-4zM1574 556h4v2h-4zM1578 554h4v2h-4zM1582 552h4v2h-4zM1586 550h4v2h-4zM1590 548h4v2h-4zM1594 546h4v2h-4zM1598 544h4v2h-4zM1602 542h4v2h-4zM1606 540h2v2h-2zM1608 538h4v2h-4zM1612 536h2v2h-2zM1614 534h4v2h-4zM1618 532h2v2h-2zM1620 530h4v2h-4zM1624 528h4v2h-4zM1628 526h2v2h-2zM1630 524h4v2h-4zM1634 522h2v2h-2zM1636 520h4v2h-4zM1640 518h2v2h-2zM1642 516h4v2h-4zM1646 514h4v2h-4zM1650 512h4v2h-4zM1654 510h6v2h-6zM1660 508h4v2h-4zM1664 506h4v2h-4zM1668 504h2v2h-2zM1670 502h4v2h-4zM1674 500h4v2h-4zM1678 498h2v2h-2zM1680 496h4v2h-4zM1684 494h4v2h-4zM1688 492h2v2h-2zM1690 490h4v2h-4zM1694 488h2v2h-2zM1696 486h4v2h-4zM1700 484h4v2h-4zM1704 482h4v2h-4zM1708 480h2v2h-2zM1710 478h4v2h-4zM1714 476h2v2h-2zM1716 474h2v2h-2zM1718 472h2v2h-2zM1720 470h4v2h-4zM1724 468h2v2h-2zM1726 466h2v2h-2zM1728 464h4v2h-4zM1732 462h2v2h-2zM1734 460h4v2h-4zM1738 458h2v2h-2zM1740 456h2v2h-2zM1742 454h4v2h-4zM1746 452h6v2h-6zM1752 450h4v2h-4zM1756 448h4v2h-4zM1760 446h4v2h-4zM1764 444h2v2h-2zM1766 442h4v2h-4zM1770 440h2v2h-2zM1772 438h4v2h-4zM1776 436h4v2h-4zM1780 434h2v2h-2zM1782 432h4v2h-4zM1786 430h2v2h-2zM1788 428h4v2h-4zM1792 426h4v2h-4zM1796 424h2v2h-2zM1798 422h4v2h-4zM1802 420h4v2h-4zM1806 418h2v2h-2zM1808 416h2v2h-2zM1810 414h4v2h-4zM1814 412h2v2h-2zM1816 410h4v2h-4zM1820 408h2v2h-2zM1822 406h2v2h-2zM1824 404h2v2h-2zM1826 402h2v2h-2zM1828 400h2v2h-2zM1830 398h2v2h-2zM1832 396h4v2h-4zM1836 394h2v2h-2zM1838 392h2v2h-2zM1840 390h2v2h-2zM1842 388h2v2h-2zM1844 386h2v2h-2zM1846 384h4v2h-4zM1850 382h2v2h-2zM1852 380h2v2h-2z" fill="#1a80ff" shape-rendering="crispEdges" />
<path d="M190 622h2v2h-2zM192 624h6v2h-6zM198 626h4v2h-4zM202 628h4v2h-4zM206 630h6v2h-6zM212 632h8v2h-8zM220 634h26v2h-26zM246 636h14v2h-14zM260 634h8v2h-8zM268 632h24v2h-24zM292 630h8v2h-8zM300 628h12v2h-12zM312 626h58v2h-58zM370 628h4v2h-4zM374 630h6v2h-6zM380 632h10v2h-10zM390 630h10v2h-10zM400 628h6v2h-6zM406 626h4v2h-4zM410 624h4v2h-4zM414 622h8v2h-8zM422 620h10v2h-10zM432 618h10v2h-10zM442 616h28v2h-28zM470 618h28v2h-28zM498 620h4v2h-4zM502 622h6v2h-6zM508 624h6v2h-6zM514 626h8v2h-8zM522 628h108v2h-108zM630 630h48v2h-48zM678 632h128v2h-128zM806 634h12v2h-12zM818 636h10v2h-10zM828 638h6v2h-6zM834 636h10v2h-10zM844 634h42v2h-42zM886 636h32v2h-32zM918 638h18v2h-18zM936 636h32v2h-32zM968 634h32v2h-32zM1000 632h32v2h-32zM1032 630h12v2h-12zM1044 628h8v2h-8zM1052 626h58v2h-58zM1110 628h94v2h-94zM1204 626h50v2h-50zM1254 628h6v2h-6zM1260 630h8v2h-8zM1268 628h12v2h-12zM1280 626h4v2h-4zM1284 624h4v2h-4zM1288 622h4v2h-4zM1292 620h4v2h-4zM1296 618h4v2h-4zM1300 616h4v2h-4zM1304 614h4v2h-4zM1308 612h2v2h-2zM1310 610h2v2h-2zM1312 608h2v2h-2zM1314 606h2v2h-2zM1316 604h2v2h-2zM1318 602h2v2h-2zM1320 600h2v2h-2zM1322 598h2v2h-2zM1324 596h2v2h-2zM1326 594h2v2h-2zM1328 592h2v2h-2zM1330 590h2v2h-2zM1332 588h2v2h-2zM1334 586h2v2h-2zM1336 584h2v2h-2zM1338 582h2v2h-2zM1340 580h2v2h-2zM1342 578h2v2h-2zM1344 576h4v2h-4zM1348 574h2v2h-2zM1350 572h4v2h-4zM1354 570h2v2h-2zM1356 568h2v2h-2zM1358 566h4v2h-4zM1362 564h2v2h-2zM1364 562h2v2h-2zM1366 560h4v2h-4zM1370 558h2v2h-2zM1372 556h2v2h-2zM1374 554h2v2h-2zM1376 552h2v2h-2zM1378 550h2v2h-2zM1380 548h2v2h-2zM1382 546h2v2h-2zM1384 544h2v2h-2zM1386 542h2v2h-2zM1388 540h2v2h-2zM1390 538h2v2h-2zM1392 536h2v2h-2zM1394 534h2v2h-2zM1396 532h2v2h-2zM1398 530h2v2h-2zM1400 528h2v2h-2zM1402 526h2v2h-2zM1404 524h2v2h-2zM1406 522h2v2h-2zM1408 520h2v2h-2zM1410 518h2v2h-2zM1412 516h2v2h-2zM1414 514h2v2h-2zM1416 512h2v2h-2zM1418 510h2v2h-2zM1420 508h2v2h-2zM1422 506h2v2h-2zM1424 504h4v2h-4zM1428 502h2v2h-2zM1430 500h4v2h-4zM1434 498h2v2h-2zM1436 496h2v2h-2zM1438 494h4v2h-4zM1442 492h2v2h-2zM1444 490h4v2h-4zM1448 488h2v2h-2zM1450 486h2v2h-2zM1452 484h4v2h-4zM1456 482h2v2h-2zM1458 480h2v2h-2zM1460 478h2v2h-2zM1462 476h2v2h-2zM1464 474h2v2h-2zM1466 472h2v2h-2zM1468 470h2v2h-2zM1470 468h2v2h-2zM1472 466h4v2h-4zM1476 464h2v2h-2zM1478 462h2v2h-2zM1480 460h4v2h-4zM1484 458h2v2h-2zM1486 456h4v2h-4zM1490 454h4v2h-4zM1494 452h4v2h-4zM1498 450h6v2h-6zM1504 448h4v2h-4zM1508 446h4v2h-4zM1512 444h4v2h-4zM1516 442h4v2h-4zM1520 440h4v2h-4zM1524 438h4v2h-4zM1528 436h6v2h-6zM1534 434h2v2h-2zM1536 432h4v2h-4zM1540 430h4v2h-4zM1544 428h2v2h-2zM1546 426h4v2h-4zM1550 424h2v2h-2zM1552 422h4v2h-4zM1556 420h2v2h-2zM1558 418h4v2h-4zM1562 416h2v2h-2zM1564 414h4v2h-4zM1568 412h6v2h-6zM1574 410h6v2h-6zM1580 408h6v2h-6zM1586 406h4v2h-4zM1590 404h6v2h-6zM1596 402h6v2h-6zM1602 400h8v2h-8zM1610 398h6v2h-6zM1616 396h2v2h-2zM1618 394h4v2h-4zM1622 392h2v2h-2zM1624 390h4v2h-4zM1628 388h2v2h-2zM1630 386h4v2h-4zM1634 384h4v2h-4zM1638 382h4v2h-4zM1642 380h4v2h-4zM1646 378h4v2h-4zM1650 376h2v2h-2zM1652 374h4v2h-4zM1656 372h4v2h-4zM1660 370h4v2h-4zM1664 368h8v2h-8zM1672 366h8v2h-8zM1680 364h6v2h-6zM1686 362h4v2h-4zM1690 360h6v2h-6zM1696 358h2v2h-2zM1698 356h2v2h-2zM1700 354h2v2h-2zM1702 352h4v2h-4zM1706 350h2v2h-2zM1708 348h2v2h-2zM1710 346h2v2h-2zM1712 344h2v2h-2zM1714 342h2v2h-2zM1716 340h2v2h-2zM1718 338h2v2h-2zM1720 336h2v2h-2zM1722 332h2v4h-2zM1724 330h2v2h-2zM1726 328h2v2h-2zM1728 326h2v2h-2zM1730 324h2v2h-2zM1732 322h2v2h-2zM1734 320h2v2h-2zM1736 318h2v2h-2zM1738 316h2v2h-2zM1740 314h2v2h-2zM1742 312h2v2h-2zM1744 310h2v2h-2zM1746 308h4v2h-4zM1750 306h2v2h-2zM1752 304h2v2h-2zM1754 302h2v2h-2zM1756 300h2v2h-2zM1758 298h4v2h-4zM1762 296h2v2h-2zM1764 294h4v2h-4zM1768 292h4v2h-4zM1772 290h2v2h-2zM1774 288h2v2h-2zM1776 286h2v2h-2zM1778 284h2v2h-2zM1780 280h2v4h-2zM1782 278h2v2h-2zM1784 276h2v2h-2zM1786 274h2v2h-2zM1788 270h2v4h-2zM1790 268h2v2h-2zM1792 266h2v2h-2zM1794 264h2v2h-2zM1796 262h2v2h-2zM1798 258h2v4h-2zM1800 256h2v2h-2zM1802 254h2v2h-2zM1804 252h2v2h-2zM1806 248h2v4h-2zM1808 244h2v4h-2zM1810 242h2v2h-2zM1812 238h2v4h-2zM1814 234h2v4h-2zM1816 230h2v4h-2zM1818 228h2v2h-2zM1820 224h2v4h-2zM1822 220h2v4h-2zM1824 216h2v4h-2zM1826 212h2v4h-2zM1828 208h2v4h-2zM1830 202h2v6h-2zM1832 198h2v4h-2zM1834 194h2v4h-2zM1836 190h2v4h-2zM1838 188h2v2h-2zM1840 184h2v4h-2zM1842 182h2v2h-2zM1844 180h2v2h-2zM1846 176h2v4h-2zM1848 174h2v2h-2zM1850 172h2v2h-2zM1852 168h2v4h-2z" fill="#33b878" shape-rendering="crispEdges" />
<line x1="182" y1="193" x2="1912" y2="193" stroke="#0a7bff" stroke-width="2" stroke-dasharray="6 6" shape-rendering="crispEdges"/>
<rect x="1913" y="193" width="136" height="34" fill="#fff" stroke="#ff7f00" stroke-width="2" shape-rendering="crispEdges"/>
<text x="1917.5" y="218" font-size="24" fill="#ff7f00" textLength="91" lengthAdjust="spacingAndGlyphs" >4237.54</text>
<path d="M2040 176 L2048 184 L2043 184 L2048 192 L2032 192 L2037 184 L2032 184 Z" fill="#ff7f00"/>
<g shape-rendering="crispEdges"><rect x="1824" y="116" width="34" height="2" fill="#000"/><rect x="1854" y="112" width="2" height="8" fill="#000"/></g>
<text x="1731.5" y="109.8" font-size="24" fill="#e94b5b" textLength="91" lengthAdjust="spacingAndGlyphs" font-weight="bold" >4379.38</text>
<g shape-rendering="crispEdges"><rect x="426" y="612" width="14" height="2" fill="#000"/><rect x="430" y="608" width="2" height="8" fill="#000"/></g>
<text x="439.5" y="605.8" font-size="24" fill="#e94b5b" textLength="91" lengthAdjust="spacingAndGlyphs" font-weight="bold" >3451.14</text>
<g shape-rendering="crispEdges"><rect x="234" y="722" width="14" height="2" fill="#000"/><rect x="238" y="718" width="2" height="8" fill="#000"/></g>
<text x="247.5" y="745.8" font-size="24" fill="#54b888" textLength="91" lengthAdjust="spacingAndGlyphs" font-weight="bold" >3245.38</text>
<g shape-rendering="crispEdges"><rect x="858" y="618" width="14" height="2" fill="#000"/><rect x="862" y="614" width="2" height="8" fill="#000"/></g>
<text x="871.5" y="611.5" font-size="24" fill="#e94b5b" textLength="91" lengthAdjust="spacingAndGlyphs" font-weight="bold" >3438.80</text>
<path d="M190 958h8v2h-8zM198 960h18v2h-18zM216 962h30v2h-30zM246 964h14v2h-14zM260 962h6v2h-6zM266 960h14v2h-14zM280 958h10v2h-10zM290 956h10v2h-10zM300 954h22v2h-22zM322 956h10v2h-10zM332 958h10v2h-10zM342 960h14v2h-14zM356 962h6v2h-6zM362 964h14v2h-14zM376 962h14v2h-14zM390 960h12v2h-12zM402 958h2v2h-2zM404 956h6v2h-6zM410 954h2v2h-2zM412 952h44v2h-44zM456 954h14v2h-14zM470 956h18v2h-18zM488 958h14v2h-14zM502 960h12v2h-12zM514 962h4v2h-4zM518 964h6v2h-6zM524 966h6v2h-6zM530 968h10v2h-10zM540 970h6v2h-6zM546 972h10v2h-10zM556 974h4v2h-4zM560 976h6v2h-6zM566 978h2v2h-2zM568 980h6v2h-6zM574 982h8v2h-8zM582 984h34v2h-34zM616 982h14v2h-14zM630 984h46v2h-46zM676 986h6v2h-6zM682 988h14v2h-14zM696 990h26v2h-26zM722 988h10v2h-10zM732 986h58v2h-58zM790 984h28v2h-28zM818 982h4v2h-4zM822 980h6v2h-6zM828 978h6v2h-6zM834 976h6v2h-6zM840 974h4v2h-4zM844 972h12v2h-12zM856 970h14v2h-14zM870 972h18v2h-18zM888 974h10v2h-10zM898 976h6v2h-6zM904 978h4v2h-4zM908 980h12v2h-12zM920 982h10v2h-10zM930 984h6v2h-6zM936 986h4v2h-4zM940 988h6v2h-6zM946 990h4v2h-4zM950 992h6v2h-6zM956 994h6v2h-6zM962 992h10v2h-10zM972 990h6v2h-6zM978 988h10v2h-10zM988 986h10v2h-10zM998 984h18v2h-18zM1016 982h10v2h-10zM1026 980h10v2h-10zM1036 978h10v2h-10zM1046 976h18v2h-18zM1064 978h14v2h-14zM1078 980h34v2h-34zM1112 982h14v2h-14zM1126 984h18v2h-18zM1144 986h10v2h-10zM1154 988h10v2h-10zM1164 990h10v2h-10zM1174 988h18v2h-18zM1192 990h10v2h-10zM1202 988h10v2h-10zM1212 986h22v2h-22zM1234 984h10v2h-10zM1244 982h6v2h-6zM1250 980h10v2h-10zM1260 978h6v2h-6zM1266 976h10v2h-10zM1276 974h6v2h-6zM1282 972h6v2h-6zM1288 970h4v2h-4zM1292 968h6v2h-6zM1298 966h4v2h-4zM1302 964h6v2h-6zM1308 962h4v2h-4zM1312 960h4v2h-4zM1316 958h2v2h-2zM1318 956h4v2h-4zM1322 954h4v2h-4zM1326 952h2v2h-2zM1328 950h4v2h-4zM1332 948h4v2h-4zM1336 946h2v2h-2zM1338 944h4v2h-4zM1342 942h4v2h-4zM1346 940h6v2h-6zM1352 938h4v2h-4zM1356 936h4v2h-4zM1360 934h4v2h-4zM1364 932h4v2h-4zM1368 930h4v2h-4zM1372 928h4v2h-4zM1376 926h4v2h-4zM1380 924h2v2h-2zM1382 922h4v2h-4zM1386 920h2v2h-2zM1388 918h4v2h-4zM1392 916h6v2h-6zM1398 914h6v2h-6zM1404 912h6v2h-6zM1410 910h8v2h-8zM1418 908h14v2h-14zM1432 906h12v2h-12zM1444 904h12v2h-12zM1456 902h10v2h-10zM1466 900h10v2h-10zM1476 898h6v2h-6zM1482 896h14v2h-14zM1496 898h12v2h-12zM1508 900h8v2h-8zM1516 902h22v2h-22zM1538 900h8v2h-8zM1546 898h8v2h-8zM1554 896h8v2h-8zM1562 894h56v2h-56zM1618 892h8v2h-8zM1626 890h8v2h-8zM1634 888h4v2h-4zM1638 886h6v2h-6zM1644 884h6v2h-6zM1650 882h8v2h-8zM1658 880h26v2h-26zM1684 878h12v2h-12zM1696 876h6v2h-6zM1702 874h6v2h-6zM1708 872h4v2h-4zM1712 870h6v2h-6zM1718 868h6v2h-6zM1724 866h4v2h-4zM1728 864h4v2h-4zM1732 862h2v2h-2zM1734 860h4v2h-4zM1738 858h2v2h-2zM1740 856h14v2h-14zM1754 858h10v2h-10zM1764 856h12v2h-12zM1776 854h6v2h-6zM1782 852h4v2h-4zM1786 850h4v2h-4zM1790 848h4v2h-4zM1794 846h4v2h-4zM1798 844h4v2h-4zM1802 842h6v2h-6zM1808 840h2v2h-2zM1810 838h4v2h-4zM1814 836h4v2h-4zM1818 834h2v2h-2zM1820 832h4v2h-4zM1824 830h2v2h-2zM1826 826h2v4h-2zM1828 824h2v2h-2zM1830 822h2v2h-2zM1832 820h2v2h-2zM1834 818h2v2h-2zM1836 816h2v2h-2zM1838 814h6v2h-6zM1844 812h10v2h-10z" fill="#1a80ff" shape-rendering="crispEdges" />
<path d="M190 958h8v2h-8zM198 960h50v2h-50zM248 962h14v2h-14zM262 960h50v2h-50zM312 958h46v2h-46zM358 960h50v2h-50zM408 958h30v2h-30zM438 956h66v2h-66zM504 958h26v2h-26zM530 960h10v2h-10zM540 962h10v2h-10zM550 964h14v2h-14zM564 966h6v2h-6zM570 968h14v2h-14zM584 970h10v2h-10zM594 972h10v2h-10zM604 974h10v2h-10zM614 976h34v2h-34zM648 978h14v2h-14zM662 980h18v2h-18zM680 982h30v2h-30zM710 984h50v2h-50zM760 986h30v2h-30zM790 984h50v2h-50zM840 982h14v2h-14zM854 980h18v2h-18zM872 978h14v2h-14zM886 976h18v2h-18zM904 978h30v2h-30zM934 980h14v2h-14zM948 982h6v2h-6zM954 984h30v2h-30zM984 986h14v2h-14zM998 984h34v2h-34zM1032 982h30v2h-30zM1062 980h66v2h-66zM1128 982h30v2h-30zM1158 984h34v2h-34zM1192 986h46v2h-46zM1238 984h34v2h-34zM1272 982h14v2h-14zM1286 980h14v2h-14zM1300 978h6v2h-6zM1306 976h8v2h-8zM1314 974h4v2h-4zM1318 972h6v2h-6zM1324 970h6v2h-6zM1330 968h6v2h-6zM1336 966h4v2h-4zM1340 964h8v2h-8zM1348 962h6v2h-6zM1354 960h6v2h-6zM1360 958h4v2h-4zM1364 956h4v2h-4zM1368 954h4v2h-4zM1372 952h6v2h-6zM1378 950h4v2h-4zM1382 948h6v2h-6zM1388 946h4v2h-4zM1392 944h6v2h-6zM1398 942h4v2h-4zM1402 940h4v2h-4zM1406 938h6v2h-6zM1412 936h6v2h-6zM1418 934h6v2h-6zM1424 932h6v2h-6zM1430 930h6v2h-6zM1436 928h4v2h-4zM1440 926h6v2h-6zM1446 924h4v2h-4zM1450 922h6v2h-6zM1456 920h10v2h-10zM1466 918h8v2h-8zM1474 916h8v2h-8zM1482 914h8v2h-8zM1490 912h8v2h-8zM1498 910h12v2h-12zM1510 908h14v2h-14zM1524 906h18v2h-18zM1542 904h18v2h-18zM1560 902h16v2h-16zM1576 900h16v2h-16zM1592 898h28v2h-28zM1620 896h14v2h-14zM1634 894h10v2h-10zM1644 892h24v2h-24zM1668 890h16v2h-16zM1684 888h12v2h-12zM1696 886h10v2h-10zM1706 884h8v2h-8zM1714 882h8v2h-8zM1722 880h8v2h-8zM1730 878h8v2h-8zM1738 876h8v2h-8zM1746 874h8v2h-8zM1754 872h8v2h-8zM1762 870h8v2h-8zM1770 868h8v2h-8zM1778 866h8v2h-8zM1786 864h8v2h-8zM1794 862h10v2h-10zM1804 860h6v2h-6zM1810 858h6v2h-6zM1816 856h6v2h-6zM1822 854h4v2h-4zM1826 852h4v2h-4zM1830 850h4v2h-4zM1834 848h4v2h-4zM1838 846h2v2h-2zM1840 844h4v2h-4zM1844 842h4v2h-4zM1848 840h4v2h-4zM1852 838h2v2h-2z" fill="#33b878" shape-rendering="crispEdges" />
<g shape-rendering="crispEdges">
<rect x="190" y="986" width="2" height="2" fill="#e93a4d" />
<rect x="206" y="986" width="2" height="4" fill="#3fb57c" />
<rect x="222" y="986" width="2" height="8" fill="#3fb57c" />
<rect x="238" y="986" width="2" height="6" fill="#3fb57c" />
<rect x="254" y="986" width="2" height="10" fill="#3fb57c" />
<rect x="270" y="984" width="2" height="4" fill="#e93a4d" />
<rect x="286" y="982" width="2" height="6" fill="#e93a4d" />
<rect x="302" y="978" width="2" height="10" fill="#e93a4d" />
<rect x="318" y="980" width="2" height="8" fill="#e93a4d" />
<rect x="334" y="986" width="2" height="4" fill="#3fb57c" />
<rect x="350" y="986" width="2" height="6" fill="#3fb57c" />
<rect x="366" y="986" width="2" height="10" fill="#3fb57c" />
<rect x="382" y="986" width="2" height="6" fill="#3fb57c" />
<rect x="398" y="986" width="2" height="2" fill="#e93a4d" />
<rect x="414" y="976" width="2" height="12" fill="#e93a4d" />
<rect x="430" y="978" width="2" height="10" fill="#e93a4d" />
<rect x="446" y="980" width="2" height="8" fill="#e93a4d" />
<rect x="462" y="984" width="2" height="4" fill="#e93a4d" />
<rect x="478" y="986" width="2" height="4" fill="#3fb57c" />
<rect x="494" y="986" width="2" height="6" fill="#3fb57c" />
<rect x="510" y="986" width="2" height="8" fill="#3fb57c" />
<rect x="526" y="986" width="2" height="16" fill="#3fb57c" />
<rect x="542" y="986" width="2" height="20" fill="#3fb57c" />
<rect x="558" y="986" width="2" height="22" fill="#3fb57c" />
<rect x="574" y="986" width="2" height="28" fill="#3fb57c" />
<rect x="590" y="986" width="2" height="28" fill="#3fb57c" />
<rect x="606" y="986" width="2" height="24" fill="#3fb57c" />
<rect x="622" y="986" width="2" height="18" fill="#3fb57c" />
<rect x="638" y="986" width="2" height="16" fill="#3fb57c" />
<rect x="654" y="986" width="2" height="14" fill="#3fb57c" />
<rect x="670" y="986" width="2" height="12" fill="#3fb57c" />
<rect x="686" y="986" width="2" height="16" fill="#3fb57c" />
<rect x="702" y="986" width="2" height="16" fill="#3fb57c" />
<rect x="718" y="986" width="2" height="14" fill="#3fb57c" />
<rect x="734" y="986" width="2" height="6" fill="#3fb57c" />
<rect x="750" y="986" width="2" height="4" fill="#3fb57c" />
<rect x="766" y="986" width="2" height="6" fill="#3fb57c" />
<rect x="782" y="986" width="2" height="2" fill="#3fb57c" />
<rect x="798" y="986" width="2" height="2" fill="#e93a4d" />
<rect x="814" y="984" width="2" height="4" fill="#e93a4d" />
<rect x="830" y="978" width="2" height="10" fill="#e93a4d" />
<rect x="846" y="968" width="2" height="20" fill="#e93a4d" />
<rect x="862" y="970" width="2" height="18" fill="#e93a4d" />
<rect x="878" y="974" width="2" height="14" fill="#e93a4d" />
<rect x="894" y="982" width="2" height="6" fill="#e93a4d" />
<rect x="910" y="986" width="2" height="8" fill="#3fb57c" />
<rect x="926" y="986" width="2" height="12" fill="#3fb57c" />
<rect x="942" y="986" width="2" height="20" fill="#3fb57c" />
<rect x="958" y="986" width="2" height="24" fill="#3fb57c" />
<rect x="974" y="986" width="2" height="14" fill="#3fb57c" />
<rect x="990" y="986" width="2" height="6" fill="#3fb57c" />
<rect x="1006" y="984" width="2" height="4" fill="#e93a4d" />
<rect x="1022" y="982" width="2" height="6" fill="#e93a4d" />
<rect x="1038" y="976" width="2" height="12" fill="#e93a4d" />
<rect x="1054" y="974" width="2" height="14" fill="#e93a4d" />
<rect x="1070" y="982" width="2" height="6" fill="#e93a4d" />
<rect x="1086" y="986" width="2" height="2" fill="#e93a4d" />
<rect x="1102" y="986" width="2" height="2" fill="#e93a4d" />
<rect x="1118" y="986" width="2" height="6" fill="#3fb57c" />
<rect x="1134" y="986" width="2" height="8" fill="#3fb57c" />
<rect x="1150" y="986" width="2" height="10" fill="#3fb57c" />
<rect x="1166" y="986" width="2" height="14" fill="#3fb57c" />
<rect x="1182" y="986" width="2" height="10" fill="#3fb57c" />
<rect x="1198" y="986" width="2" height="10" fill="#3fb57c" />
<rect x="1214" y="986" width="2" height="4" fill="#3fb57c" />
<rect x="1230" y="986" width="2" height="2" fill="#e93a4d" />
<rect x="1246" y="980" width="2" height="8" fill="#e93a4d" />
<rect x="1262" y="976" width="2" height="12" fill="#e93a4d" />
<rect x="1278" y="972" width="2" height="16" fill="#e93a4d" />
<rect x="1294" y="966" width="2" height="22" fill="#e93a4d" />
<rect x="1310" y="958" width="2" height="30" fill="#e93a4d" />
<rect x="1326" y="948" width="2" height="40" fill="#e93a4d" />
<rect x="1342" y="940" width="2" height="48" fill="#e93a4d" />
<rect x="1358" y="940" width="2" height="48" fill="#e93a4d" />
<rect x="1374" y="938" width="2" height="50" fill="#e93a4d" />
<rect x="1390" y="932" width="2" height="56" fill="#e93a4d" />
<rect x="1406" y="934" width="2" height="54" fill="#e93a4d" />
<rect x="1422" y="936" width="2" height="52" fill="#e93a4d" />
<rect x="1438" y="942" width="2" height="46" fill="#e93a4d" />
<rect x="1454" y="948" width="2" height="40" fill="#e93a4d" />
<rect x="1470" y="950" width="2" height="38" fill="#e93a4d" />
<rect x="1486" y="952" width="2" height="36" fill="#e93a4d" />
<rect x="1502" y="962" width="2" height="26" fill="#e93a4d" />
<rect x="1518" y="972" width="2" height="16" fill="#e93a4d" />
<rect x="1534" y="976" width="2" height="12" fill="#e93a4d" />
<rect x="1550" y="970" width="2" height="18" fill="#e93a4d" />
<rect x="1566" y="968" width="2" height="20" fill="#e93a4d" />
<rect x="1582" y="972" width="2" height="16" fill="#e93a4d" />
<rect x="1598" y="976" width="2" height="12" fill="#e93a4d" />
<rect x="1614" y="978" width="2" height="10" fill="#e93a4d" />
<rect x="1630" y="972" width="2" height="16" fill="#e93a4d" />
<rect x="1646" y="966" width="2" height="22" fill="#e93a4d" />
<rect x="1662" y="966" width="2" height="22" fill="#e93a4d" />
<rect x="1678" y="968" width="2" height="20" fill="#e93a4d" />
<rect x="1694" y="968" width="2" height="20" fill="#e93a4d" />
<rect x="1710" y="962" width="2" height="26" fill="#e93a4d" />
<rect x="1726" y="956" width="2" height="32" fill="#e93a4d" />
<rect x="1742" y="950" width="2" height="38" fill="#e93a4d" />
<rect x="1758" y="958" width="2" height="30" fill="#e93a4d" />
<rect x="1774" y="960" width="2" height="28" fill="#e93a4d" />
<rect x="1790" y="954" width="2" height="34" fill="#e93a4d" />
<rect x="1806" y="948" width="2" height="40" fill="#e93a4d" />
<rect x="1822" y="940" width="2" height="48" fill="#e93a4d" />
<rect x="1838" y="924" width="2" height="64" fill="#e93a4d" />
<rect x="1854" y="930" width="2" height="58" fill="#e93a4d" />
</g>
<path d="M190 1180h2v2h-2zM192 1182h2v2h-2zM194 1184h4v2h-4zM198 1186h2v2h-2zM200 1188h2v2h-2zM202 1190h2v2h-2zM204 1192h4v2h-4zM208 1194h4v2h-4zM212 1196h4v2h-4zM216 1198h4v2h-4zM220 1200h4v2h-4zM224 1198h4v2h-4zM228 1196h4v2h-4zM232 1194h2v2h-2zM234 1192h4v2h-4zM238 1190h2v2h-2zM240 1192h4v2h-4zM244 1194h2v2h-2zM246 1196h4v2h-4zM250 1198h4v2h-4zM254 1198h2v4h-2zM256 1196h2v2h-2zM258 1192h2v4h-2zM260 1188h2v4h-2zM262 1184h2v4h-2zM264 1180h2v4h-2zM266 1178h2v2h-2zM268 1174h2v4h-2zM270 1172h2v2h-2zM272 1174h4v2h-4zM276 1176h2v2h-2zM278 1178h4v2h-4zM282 1180h4v2h-4zM286 1182h4v2h-4zM290 1180h4v2h-4zM294 1178h6v2h-6zM300 1176h6v2h-6zM306 1178h4v2h-4zM310 1180h6v2h-6zM316 1182h4v2h-4zM320 1184h2v4h-2zM322 1188h2v2h-2zM324 1190h2v2h-2zM326 1192h2v2h-2zM328 1194h2v2h-2zM330 1196h2v2h-2zM332 1198h2v2h-2zM334 1200h6v2h-6zM340 1198h6v2h-6zM346 1196h22v2h-22zM368 1194h2v2h-2zM370 1192h4v2h-4zM374 1190h2v2h-2zM376 1188h2v2h-2zM378 1186h4v2h-4zM382 1184h2v2h-2zM384 1182h4v2h-4zM388 1180h2v2h-2zM390 1178h4v2h-4zM394 1176h4v2h-4zM398 1174h2v2h-2zM400 1172h2v2h-2zM402 1170h2v2h-2zM404 1168h2v2h-2zM406 1166h2v2h-2zM408 1164h2v2h-2zM410 1162h2v2h-2zM412 1160h2v2h-2zM414 1158h2v2h-2zM416 1160h2v2h-2zM418 1162h2v4h-2zM420 1166h2v2h-2zM422 1168h2v4h-2zM424 1172h2v2h-2zM426 1174h2v2h-2zM428 1176h2v4h-2zM430 1180h20v2h-20zM450 1182h4v2h-4zM454 1184h4v2h-4zM458 1186h4v2h-4zM462 1188h26v2h-26zM488 1190h14v2h-14zM502 1188h8v2h-8zM510 1188h2v4h-2zM512 1192h2v2h-2zM514 1194h2v4h-2zM516 1198h2v4h-2zM518 1202h2v2h-2zM520 1204h2v4h-2zM522 1208h2v4h-2zM524 1212h2v2h-2zM526 1214h4v2h-4zM530 1212h4v2h-4zM534 1210h6v2h-6zM540 1208h8v2h-8zM548 1210h8v2h-8zM556 1212h2v2h-2zM558 1212h2v4h-2zM560 1216h2v2h-2zM562 1218h2v4h-2zM564 1222h2v4h-2zM566 1226h2v2h-2zM568 1228h2v4h-2zM570 1232h2v2h-2zM572 1234h2v4h-2zM574 1238h2v2h-2zM576 1236h2v2h-2zM578 1234h2v2h-2zM580 1232h2v2h-2zM582 1230h2v2h-2zM584 1228h2v2h-2zM586 1226h2v2h-2zM588 1224h2v2h-2zM590 1222h2v2h-2zM592 1218h2v4h-2zM594 1216h2v2h-2zM596 1214h2v2h-2zM598 1210h2v4h-2zM600 1208h2v2h-2zM602 1206h2v2h-2zM604 1202h2v4h-2zM606 1200h4v2h-4zM610 1198h4v2h-4zM614 1196h4v2h-4zM618 1194h2v2h-2zM620 1192h4v2h-4zM624 1194h2v2h-2zM626 1196h2v2h-2zM628 1198h2v2h-2zM630 1200h2v4h-2zM632 1204h2v2h-2zM634 1206h2v2h-2zM636 1208h2v2h-2zM638 1210h4v2h-4zM642 1208h4v2h-4zM646 1206h6v2h-6zM652 1204h20v2h-20zM672 1206h2v2h-2zM674 1208h2v2h-2zM676 1210h2v2h-2zM678 1212h2v4h-2zM680 1216h2v2h-2zM682 1218h2v2h-2zM684 1220h2v2h-2zM686 1222h4v2h-4zM690 1220h4v2h-4zM694 1218h6v2h-6zM700 1216h4v2h-4zM704 1214h4v2h-4zM708 1212h4v2h-4zM712 1210h4v2h-4zM716 1208h4v2h-4zM720 1204h2v4h-2zM722 1202h2v2h-2zM724 1200h2v2h-2zM726 1198h2v2h-2zM728 1196h2v2h-2zM730 1192h2v4h-2zM732 1190h2v2h-2zM734 1188h2v2h-2zM736 1190h4v2h-4zM740 1192h2v2h-2zM742 1194h4v2h-4zM746 1196h2v2h-2zM748 1198h4v2h-4zM752 1200h2v2h-2zM754 1202h4v2h-4zM758 1204h2v2h-2zM760 1206h2v2h-2zM762 1208h4v2h-4zM766 1210h2v2h-2zM768 1208h2v2h-2zM770 1206h2v2h-2zM772 1204h2v2h-2zM774 1202h2v2h-2zM776 1200h4v2h-4zM780 1198h2v2h-2zM782 1196h4v2h-4zM786 1198h6v2h-6zM792 1200h4v2h-4zM796 1202h4v2h-4zM800 1200h4v2h-4zM804 1198h4v2h-4zM808 1196h4v2h-4zM812 1194h2v2h-2zM814 1192h2v4h-2zM816 1188h2v4h-2zM818 1186h2v2h-2zM820 1182h2v4h-2zM822 1178h2v4h-2zM824 1174h2v4h-2zM826 1172h2v2h-2zM828 1168h2v4h-2zM830 1166h2v2h-2zM832 1164h2v2h-2zM834 1162h2v2h-2zM836 1160h2v2h-2zM838 1158h2v2h-2zM840 1156h2v2h-2zM842 1154h2v2h-2zM844 1152h2v2h-2zM846 1150h2v4h-2zM848 1154h2v4h-2zM850 1158h2v4h-2zM852 1162h2v4h-2zM854 1166h2v4h-2zM856 1170h2v4h-2zM858 1174h2v4h-2zM860 1178h2v4h-2zM862 1182h4v2h-4zM866 1184h2v2h-2zM868 1186h2v2h-2zM870 1188h4v2h-4zM874 1190h2v2h-2zM876 1192h2v2h-2zM878 1194h2v2h-2zM880 1196h2v2h-2zM882 1198h2v2h-2zM884 1200h2v2h-2zM886 1202h2v4h-2zM888 1206h2v2h-2zM890 1208h2v2h-2zM892 1210h2v2h-2zM894 1212h2v2h-2zM896 1214h2v2h-2zM898 1216h4v2h-4zM902 1218h2v2h-2zM904 1220h4v2h-4zM908 1222h2v2h-2zM910 1224h2v2h-2zM912 1222h6v2h-6zM918 1220h4v2h-4zM922 1218h6v2h-6zM928 1220h2v4h-2zM930 1224h2v2h-2zM932 1226h2v2h-2zM934 1228h2v4h-2zM936 1232h2v2h-2zM938 1234h2v4h-2zM940 1238h2v2h-2zM942 1240h4v2h-4zM946 1238h4v2h-4zM950 1236h6v2h-6zM956 1234h2v2h-2zM958 1230h2v6h-2zM960 1224h2v6h-2zM962 1220h2v4h-2zM964 1214h2v6h-2zM966 1208h2v6h-2zM968 1204h2v4h-2zM970 1198h2v6h-2zM972 1194h2v4h-2zM974 1192h2v2h-2zM976 1190h8v2h-8zM984 1188h8v2h-8zM992 1186h10v2h-10zM1002 1184h8v2h-8zM1010 1186h4v2h-4zM1014 1188h4v2h-4zM1018 1190h4v2h-4zM1022 1192h2v2h-2zM1024 1190h2v2h-2zM1026 1188h2v2h-2zM1028 1186h2v2h-2zM1030 1184h4v2h-4zM1034 1182h2v2h-2zM1036 1180h2v2h-2zM1038 1178h8v2h-8zM1046 1176h8v2h-8zM1054 1176h2v4h-2zM1056 1180h2v4h-2zM1058 1184h2v4h-2zM1060 1188h2v4h-2zM1062 1192h2v6h-2zM1064 1198h2v4h-2zM1066 1202h2v4h-2zM1068 1206h2v4h-2zM1070 1210h8v2h-8zM1078 1208h10v2h-10zM1088 1206h6v2h-6zM1094 1204h6v2h-6zM1100 1202h4v2h-4zM1104 1204h2v2h-2zM1106 1206h2v2h-2zM1108 1208h4v2h-4zM1112 1210h2v2h-2zM1114 1212h2v2h-2zM1116 1214h2v2h-2zM1118 1216h26v2h-26zM1144 1218h8v2h-8zM1152 1220h4v2h-4zM1156 1222h4v2h-4zM1160 1224h2v2h-2zM1162 1226h4v2h-4zM1166 1226h2v4h-2zM1168 1224h2v2h-2zM1170 1220h2v4h-2zM1172 1218h2v2h-2zM1174 1214h2v4h-2zM1176 1212h2v2h-2zM1178 1210h2v2h-2zM1180 1206h2v4h-2zM1182 1204h4v2h-4zM1186 1206h4v2h-4zM1190 1208h6v2h-6zM1196 1210h4v2h-4zM1200 1206h2v4h-2zM1202 1204h2v2h-2zM1204 1202h2v2h-2zM1206 1198h2v4h-2zM1208 1196h2v2h-2zM1210 1192h2v4h-2zM1212 1190h2v2h-2zM1214 1188h6v2h-6zM1220 1190h8v2h-8zM1228 1192h4v2h-4zM1232 1190h2v2h-2zM1234 1188h2v2h-2zM1236 1184h2v4h-2zM1238 1182h2v2h-2zM1240 1180h2v2h-2zM1242 1178h2v2h-2zM1244 1176h2v2h-2zM1246 1174h8v2h-8zM1254 1172h10v2h-10zM1264 1170h2v2h-2zM1266 1168h4v2h-4zM1270 1166h2v2h-2zM1272 1164h4v2h-4zM1276 1162h2v2h-2zM1278 1160h2v2h-2zM1280 1158h2v2h-2zM1282 1156h2v2h-2zM1284 1154h2v2h-2zM1286 1152h2v2h-2zM1288 1150h2v2h-2zM1290 1146h2v4h-2zM1292 1144h2v2h-2zM1294 1142h4v2h-4zM1298 1140h2v2h-2zM1300 1138h2v2h-2zM1302 1136h2v2h-2zM1304 1134h2v2h-2zM1306 1132h4v2h-4zM1310 1130h2v2h-2zM1312 1126h2v4h-2zM1314 1124h2v2h-2zM1316 1122h2v2h-2zM1318 1118h2v4h-2zM1320 1116h2v2h-2zM1322 1114h2v2h-2zM1324 1110h2v4h-2zM1326 1108h4v2h-4zM1330 1106h6v2h-6zM1336 1104h4v2h-4zM1340 1102h4v2h-4zM1344 1104h4v2h-4zM1348 1106h2v2h-2zM1350 1108h2v2h-2zM1352 1110h4v2h-4zM1356 1112h2v2h-2zM1358 1114h2v2h-2zM1360 1112h2v2h-2zM1362 1110h4v2h-4zM1366 1108h2v2h-2zM1368 1106h2v2h-2zM1370 1104h4v2h-4zM1374 1102h2v2h-2zM1376 1100h2v2h-2zM1378 1098h2v2h-2zM1380 1096h2v2h-2zM1382 1094h4v2h-4zM1386 1092h2v2h-2zM1388 1090h2v2h-2zM1390 1088h2v2h-2zM1392 1090h4v2h-4zM1396 1092h4v2h-4zM1400 1094h2v2h-2zM1402 1096h4v2h-4zM1406 1098h4v2h-4zM1410 1096h8v2h-8zM1418 1094h8v2h-8zM1426 1096h6v2h-6zM1432 1098h4v2h-4zM1436 1100h8v2h-8zM1444 1098h12v2h-12zM1456 1096h2v2h-2zM1458 1094h4v2h-4zM1462 1092h4v2h-4zM1466 1090h2v2h-2zM1468 1088h4v2h-4zM1472 1086h10v2h-10zM1482 1084h4v2h-4zM1486 1084h2v4h-2zM1488 1088h2v4h-2zM1490 1092h2v4h-2zM1492 1096h2v2h-2zM1494 1098h2v4h-2zM1496 1102h2v4h-2zM1498 1106h2v4h-2zM1500 1110h2v4h-2zM1502 1114h2v2h-2zM1504 1116h2v2h-2zM1506 1118h2v2h-2zM1508 1120h2v2h-2zM1510 1122h2v2h-2zM1512 1124h2v2h-2zM1514 1126h2v2h-2zM1516 1128h2v2h-2zM1518 1130h2v2h-2zM1520 1128h2v2h-2zM1522 1126h2v2h-2zM1524 1124h2v2h-2zM1526 1122h2v2h-2zM1528 1120h2v2h-2zM1530 1118h2v2h-2zM1532 1116h2v2h-2zM1534 1114h2v2h-2zM1536 1110h2v4h-2zM1538 1108h2v2h-2zM1540 1106h2v2h-2zM1542 1104h2v2h-2zM1544 1102h2v2h-2zM1546 1098h2v4h-2zM1548 1096h2v2h-2zM1550 1094h12v2h-12zM1562 1092h4v2h-4zM1566 1092h2v4h-2zM1568 1096h2v2h-2zM1570 1098h2v4h-2zM1572 1102h2v2h-2zM1574 1104h2v4h-2zM1576 1108h2v2h-2zM1578 1110h2v2h-2zM1580 1112h2v4h-2zM1582 1116h4v2h-4zM1586 1114h8v2h-8zM1594 1112h8v2h-8zM1602 1110h8v2h-8zM1610 1108h6v2h-6zM1616 1106h2v2h-2zM1618 1104h2v2h-2zM1620 1100h2v4h-2zM1622 1098h2v2h-2zM1624 1096h2v2h-2zM1626 1094h2v2h-2zM1628 1092h2v2h-2zM1630 1090h4v2h-4zM1634 1088h6v2h-6zM1640 1086h4v2h-4zM1644 1084h20v2h-20zM1664 1086h6v2h-6zM1670 1088h4v2h-4zM1674 1090h4v2h-4zM1678 1092h2v2h-2zM1680 1090h4v2h-4zM1684 1088h4v2h-4zM1688 1086h4v2h-4zM1692 1084h4v2h-4zM1696 1082h2v2h-2zM1698 1080h2v2h-2zM1700 1078h2v2h-2zM1702 1076h2v2h-2zM1704 1074h2v2h-2zM1706 1072h2v2h-2zM1708 1070h2v2h-2zM1710 1068h10v2h-10zM1720 1066h10v2h-10zM1730 1064h4v2h-4zM1734 1062h6v2h-6zM1740 1060h2v2h-2zM1742 1060h2v6h-2zM1744 1066h2v6h-2zM1746 1072h2v6h-2zM1748 1078h2v6h-2zM1750 1084h2v6h-2zM1752 1090h2v6h-2zM1754 1096h2v6h-2zM1756 1102h2v6h-2zM1758 1108h2v2h-2zM1760 1106h4v2h-4zM1764 1104h4v2h-4zM1768 1102h4v2h-4zM1772 1100h4v2h-4zM1776 1098h2v2h-2zM1778 1096h2v2h-2zM1780 1094h2v2h-2zM1782 1092h2v2h-2zM1784 1090h2v2h-2zM1786 1088h2v2h-2zM1788 1086h2v2h-2zM1790 1084h2v2h-2zM1792 1082h4v2h-4zM1796 1080h6v2h-6zM1802 1078h4v2h-4zM1806 1076h4v2h-4zM1810 1074h4v2h-4zM1814 1072h4v2h-4zM1818 1070h4v2h-4zM1822 1068h4v2h-4zM1826 1066h4v2h-4zM1830 1064h4v2h-4zM1834 1062h4v2h-4zM1838 1060h2v6h-2zM1840 1066h2v4h-2zM1842 1070h2v6h-2zM1844 1076h2v6h-2zM1846 1082h2v4h-2zM1848 1086h2v6h-2zM1850 1092h2v6h-2zM1852 1098h2v4h-2z" fill="#28aae1" shape-rendering="crispEdges" />
<text x="183.5 207.7 231.9 256.1" y="28.5" font-size="24.5" fill="#000" font-family="&quot;Liberation Sans&quot;, &quot;Noto Sans CJK SC&quot;, sans-serif">现货黄金</text>
<text x="276.5 302.5 326.8 355" y="28.5" font-size="24.5" fill="#ff8a1e" font-family="&quot;Liberation Sans&quot;, &quot;Noto Sans CJK SC&quot;, sans-serif">【日线】</text>
<g stroke="#ff8a1e" stroke-width="1.6" fill="none"><circle cx="385.5" cy="23" r="8"/><path d="M377.5 23H393.5M385.5 15V31"/></g>
<g shape-rendering="crispEdges">
<rect x="434" y="4" width="2" height="24" fill="#8a8a82" />
<rect x="412" y="28" width="22" height="2" fill="#8a8a82" />
<rect x="412" y="2" width="20" height="2" fill="#000080" />
<rect x="412" y="26" width="20" height="2" fill="#000080" />
<rect x="410" y="4" width="2" height="22" fill="#000080" />
<rect x="432" y="4" width="2" height="22" fill="#000080" />
<rect x="412" y="16" width="2" height="2" fill="#ff0000" />
<rect x="412" y="22" width="2" height="2" fill="#0000ff" />
<rect x="414" y="14" width="2" height="2" fill="#ff0000" />
<rect x="414" y="20" width="2" height="2" fill="#0000ff" />
<rect x="416" y="12" width="2" height="2" fill="#ff0000" />
<rect x="416" y="18" width="2" height="2" fill="#0000ff" />
<rect x="418" y="8" width="2" height="4" fill="#ff0000" />
<rect x="418" y="14" width="2" height="4" fill="#0000ff" />
<rect x="420" y="10" width="2" height="2" fill="#ff0000" />
<rect x="420" y="16" width="2" height="2" fill="#0000ff" />
<rect x="422" y="12" width="2" height="2" fill="#ff0000" />
<rect x="422" y="18" width="2" height="2" fill="#0000ff" />
<rect x="424" y="14" width="2" height="2" fill="#ff0000" />
<rect x="424" y="20" width="2" height="2" fill="#0000ff" />
<rect x="426" y="12" width="2" height="2" fill="#ff0000" />
<rect x="426" y="18" width="2" height="2" fill="#0000ff" />
<rect x="428" y="10" width="2" height="2" fill="#ff0000" />
<rect x="428" y="16" width="2" height="2" fill="#0000ff" />
<rect x="430" y="10" width="2" height="2" fill="#ff0000" />
<rect x="430" y="16" width="2" height="2" fill="#0000ff" />
</g>
<text x="441" y="27.5" font-size="24" fill="#111" textLength="121.5" lengthAdjust="spacingAndGlyphs" >BOLL(26,2)</text>
<text x="572.5" y="27.5" font-size="24" fill="#4a94ff" textLength="143.5" lengthAdjust="spacingAndGlyphs" >MID:3887.03</text>
<text x="733.8" y="27.5" font-size="24" fill="#5cc593" textLength="170.2" lengthAdjust="spacingAndGlyphs" >UPPER:4284.65</text>
<text x="921.8" y="27.5" font-size="24" fill="#47b1e4" textLength="181.7" lengthAdjust="spacingAndGlyphs" >LOWER:3489.40</text>
<g shape-rendering="crispEdges">
<rect x="1118" y="2" width="4" height="2" fill="#c6d4d4" />
<rect x="1116" y="4" width="8" height="2" fill="#c6d4d4" />
<rect x="1114" y="6" width="12" height="2" fill="#c6d4d4" />
<rect x="1112" y="8" width="16" height="2" fill="#c6d4d4" />
<rect x="1110" y="10" width="20" height="4" fill="#c6d4d4" />
<rect x="1116" y="14" width="8" height="10" fill="#c6d4d4" />
<rect x="1118" y="4" width="4" height="2" fill="#ff0000" />
<rect x="1116" y="6" width="8" height="2" fill="#ff0000" />
<rect x="1114" y="8" width="12" height="2" fill="#ff0000" />
<rect x="1112" y="10" width="16" height="2" fill="#ff0000" />
<rect x="1118" y="12" width="4" height="10" fill="#ff0000" />
<rect x="1110" y="14" width="6" height="2" fill="#000" />
<rect x="1124" y="14" width="8" height="2" fill="#000" />
<rect x="1124" y="14" width="2" height="12" fill="#000" />
<rect x="1118" y="24" width="8" height="2" fill="#000" />
</g>
<text x="1140.5" y="27.5" font-size="24" fill="#111" textLength="156.5" lengthAdjust="spacingAndGlyphs" >VR(26,70,250)</text>
<g shape-rendering="crispEdges">
<rect x="1787" y="3" width="26" height="26" fill="#fff" stroke="#167bca" stroke-width="2"/>
<rect x="1798" y="6" width="4" height="6" fill="#167bca" />
<rect x="1798" y="14" width="4" height="4" fill="#167bca" />
<rect x="1798" y="20" width="4" height="6" fill="#167bca" />
<rect x="1790" y="14" width="6" height="4" fill="#167bca" />
<rect x="1804" y="14" width="6" height="4" fill="#167bca" />
<rect x="1819" y="3" width="26" height="26" fill="#fff" stroke="#167bca" stroke-width="2"/>
<rect x="1824" y="6" width="2" height="20" fill="#167bca" />
<rect x="1822" y="8" width="6" height="2" fill="#5fa5dc" />
<rect x="1822" y="22" width="20" height="2" fill="#167bca" />
<rect x="1838" y="20" width="2" height="6" fill="#5fa5dc" />
<rect x="1830" y="8" width="2" height="12" fill="#167bca" />
</g>
<path d="M1832 13 L1838 8 L1838 18 Z" fill="#3d92d4"/>
<g shape-rendering="crispEdges">
<rect x="1850" y="2" width="28" height="28" fill="#167bca" />
<rect x="1856" y="6" width="2" height="20" fill="#fff" />
<rect x="1854" y="8" width="6" height="2" fill="#cfe4f5" />
<rect x="1854" y="22" width="20" height="2" fill="#fff" />
<rect x="1870" y="20" width="2" height="6" fill="#cfe4f5" />
</g>
<path d="M1862 8 L1872 15 L1862 22 Z" fill="#e3eff9"/>
<g shape-rendering="crispEdges">
<rect x="1883" y="3" width="26" height="26" fill="#fff" stroke="#167bca" stroke-width="2"/>
<rect x="1887" y="7" width="6" height="18" fill="none" stroke="#167bca" stroke-width="2"/>
<rect x="1890" y="14" width="10" height="4" fill="#167bca" />
</g>
<path d="M1898 10 L1906 16 L1898 22 Z" fill="#167bca"/>
<text x="185" y="795.5" font-size="24" fill="#111" textLength="170" lengthAdjust="spacingAndGlyphs" >MACD(26,12,9)</text>
<text x="364" y="795.5" font-size="24" fill="#4a94ff" textLength="131.5" lengthAdjust="spacingAndGlyphs" >DIFF:159.72</text>
<text x="513" y="795.5" font-size="24" fill="#5cc593" textLength="128" lengthAdjust="spacingAndGlyphs" >DEA:134.33</text>
<text x="659" y="795.5" font-size="24" fill="#47b1e4" textLength="141" lengthAdjust="spacingAndGlyphs" >MACD:50.78</text>
<text x="184.5" y="1044" font-size="24" fill="#111" textLength="149" lengthAdjust="spacingAndGlyphs" >RSI(14,14,14)</text>
<text x="343" y="1044" font-size="24" fill="#4a94ff" textLength="119" lengthAdjust="spacingAndGlyphs" >RSI1:75.84</text>
<text x="478.5" y="1044" font-size="24" fill="#5cc593" textLength="119" lengthAdjust="spacingAndGlyphs" >RSI2:75.84</text>
<text x="614.5" y="1044" font-size="24" fill="#47b1e4" textLength="119.5" lengthAdjust="spacingAndGlyphs" >RSI3:75.84</text>
<g shape-rendering="crispEdges">
<rect x="56" y="1016" width="2" height="4" fill="#ff0000" />
<rect x="56" y="1040" width="2" height="4" fill="#ff0000" />
<rect x="44" y="1028" width="4" height="2" fill="#ff0000" />
<rect x="68" y="1028" width="4" height="2" fill="#ff0000" />
<rect x="46" y="1018" width="2" height="2" fill="#ff0000" />
<rect x="48" y="1020" width="2" height="2" fill="#ff0000" />
<rect x="68" y="1018" width="2" height="2" fill="#ff0000" />
<rect x="66" y="1020" width="2" height="2" fill="#ff0000" />
<rect x="48" y="1038" width="2" height="2" fill="#ff0000" />
<rect x="46" y="1040" width="2" height="2" fill="#ff0000" />
<rect x="66" y="1038" width="2" height="2" fill="#ff0000" />
<rect x="68" y="1040" width="2" height="2" fill="#ff0000" />
<rect x="56" y="1026" width="4" height="8" fill="#ff0000" />
<rect x="54" y="1028" width="8" height="4" fill="#ff0000" />
<rect x="54" y="1022" width="8" height="2" fill="#000" />
<rect x="54" y="1036" width="8" height="2" fill="#000" />
<rect x="50" y="1026" width="2" height="8" fill="#000" />
<rect x="64" y="1026" width="2" height="8" fill="#000" />
<rect x="52" y="1024" width="2" height="2" fill="#000" />
<rect x="62" y="1024" width="2" height="2" fill="#000" />
<rect x="52" y="1034" width="2" height="2" fill="#000" />
<rect x="62" y="1034" width="2" height="2" fill="#000" />
</g>
<g shape-rendering="crispEdges">
<rect x="0" y="0" width="40" height="426" fill="#e0e1ea" />
<rect x="0" y="102" width="38" height="92" fill="#ff6a00" />
<rect x="0" y="298" width="40" height="2" fill="#cdd5df" />
<rect x="0" y="426" width="2" height="888" fill="#cad3dd" />
<rect x="38" y="426" width="2" height="888" fill="#cad3dd" />
<rect x="0" y="426" width="40" height="2" fill="#cad3dd" />
<rect x="0" y="1312" width="40" height="2" fill="#cad3dd" />
</g>
<g font-family="&quot;Liberation Sans&quot;, &quot;Noto Sans CJK SC&quot;, sans-serif" font-size="26" fill="#17243a">
<text x="6" y="35.88">分</text>
<text x="6" y="63.88">时</text>
<text x="6" y="91.88">图</text>
<text x="6" y="161.88" fill="#fff">线</text>
<text x="6" y="189.88" fill="#fff">图</text>
<text x="6" y="231.88">闪</text>
<text x="6" y="259.88">电</text>
<text x="6" y="287.88">图</text>
<text x="6" y="335.38">合</text>
<text x="6" y="363.88">约</text>
<text x="6" y="391.68">资</text>
<text x="6" y="419.88">料</text>
</g>
<g shape-rendering="crispEdges">
<rect x="41" y="1243" width="138" height="38" fill="#fff" stroke="#cad3dd" stroke-width="2"/>
<rect x="40" y="1282" width="2012" height="2" fill="#cad3dd" />
<rect x="1763" y="1312" width="289" height="2" fill="#cad3dd" />
<rect x="270" y="1244" width="2" height="10" fill="#c5ced8" />
<rect x="606" y="1244" width="2" height="10" fill="#c5ced8" />
<rect x="974" y="1244" width="2" height="10" fill="#c5ced8" />
<rect x="1310" y="1244" width="2" height="10" fill="#c5ced8" />
<rect x="1662" y="1244" width="2" height="10" fill="#c5ced8" />
</g>
<text x="68 93" y="1274.5" font-size="26" font-weight="bold" fill="#ff7f1a" font-family="&quot;Liberation Sans&quot;, &quot;Noto Sans CJK SC&quot;, sans-serif">日线</text>
<path d="M137.5 1255.5 L146.5 1272 L128.5 1272 Z" fill="#ff7f00"/>
<text x="274.5" y="1267.5" font-size="24" fill="#1b2236" textLength="90" lengthAdjust="spacingAndGlyphs" font-weight="bold" >2025/06</text>
<text x="610.5" y="1267.5" font-size="24" fill="#1b2236" textLength="90" lengthAdjust="spacingAndGlyphs" font-weight="bold" >2025/07</text>
<text x="978.5" y="1267.5" font-size="24" fill="#1b2236" textLength="90" lengthAdjust="spacingAndGlyphs" font-weight="bold" >2025/08</text>
<text x="1314.5" y="1267.5" font-size="24" fill="#1b2236" textLength="90" lengthAdjust="spacingAndGlyphs" font-weight="bold" >2025/09</text>
<text x="1666.5" y="1267.5" font-size="24" fill="#1b2236" textLength="90" lengthAdjust="spacingAndGlyphs" font-weight="bold" >2025/10</text>
<g shape-rendering="crispEdges">
<rect x="200" y="1282" width="114" height="30" fill="#ff6a00" />
<rect x="118" y="1284" width="2" height="30" fill="#cad3dd" />
<rect x="198" y="1284" width="2" height="30" fill="#cad3dd" />
<rect x="466" y="1284" width="2" height="30" fill="#cad3dd" />
<rect x="582" y="1284" width="2" height="30" fill="#cad3dd" />
<rect x="698" y="1284" width="2" height="30" fill="#cad3dd" />
<rect x="802" y="1284" width="2" height="30" fill="#cad3dd" />
<rect x="906" y="1284" width="2" height="30" fill="#cad3dd" />
<rect x="1046" y="1284" width="2" height="30" fill="#cad3dd" />
<rect x="1138" y="1284" width="2" height="30" fill="#cad3dd" />
<rect x="1242" y="1284" width="2" height="30" fill="#cad3dd" />
<rect x="1334" y="1284" width="2" height="30" fill="#cad3dd" />
<rect x="1450" y="1284" width="2" height="30" fill="#cad3dd" />
<rect x="1554" y="1284" width="2" height="30" fill="#cad3dd" />
<rect x="1706" y="1284" width="2" height="30" fill="#cad3dd" />
<rect x="1762" y="1284" width="2" height="30" fill="#cad3dd" />
<rect x="314" y="1284" width="2" height="30" fill="#cad3dd" />
</g>
<text x="55.3 79.5" y="1308" font-size="25.5" fill="#1f2b3d" font-family="&quot;Liberation Sans&quot;, &quot;Noto Sans CJK SC&quot;, sans-serif">指标</text>
<text x="135.8 160" y="1308" font-size="25.5" fill="#1f2b3d" font-family="&quot;Liberation Sans&quot;, &quot;Noto Sans CJK SC&quot;, sans-serif">模板</text>
<text transform="translate(14,132) scale(1,1.22)" font-family="Liberation Mono, monospace" font-size="20" fill="#fff" textLength="12" lengthAdjust="spacingAndGlyphs">K</text>
<text transform="translate(216,1306) scale(1,1.22)" font-family="Liberation Mono, monospace" font-size="20" fill="#fff" textLength="36" lengthAdjust="spacingAndGlyphs">VIP</text>
<text x="252.3 276.5" y="1308" font-size="25.5" fill="#fff" font-family="&quot;Liberation Sans&quot;, &quot;Noto Sans CJK SC&quot;, sans-serif">指标</text>
<text transform="translate(331,1306) scale(1,1.22)" font-family="Liberation Mono, monospace" font-size="20" fill="#1f2b3d" textLength="120" lengthAdjust="spacingAndGlyphs">BARUPDN_UD</text>
<text transform="translate(483,1306) scale(1,1.22)" font-family="Liberation Mono, monospace" font-size="20" fill="#1f2b3d" textLength="84" lengthAdjust="spacingAndGlyphs">BIAS_UD</text>
<text transform="translate(599,1306) scale(1,1.22)" font-family="Liberation Mono, monospace" font-size="20" fill="#1f2b3d" textLength="84" lengthAdjust="spacingAndGlyphs">BOLL_UD</text>
<text transform="translate(715,1306) scale(1,1.22)" font-family="Liberation Mono, monospace" font-size="20" fill="#1f2b3d" textLength="72" lengthAdjust="spacingAndGlyphs">CCI_UD</text>
<text transform="translate(819,1306) scale(1,1.22)" font-family="Liberation Mono, monospace" font-size="20" fill="#1f2b3d" textLength="72" lengthAdjust="spacingAndGlyphs">DMI_UD</text>
<text transform="translate(923,1306) scale(1,1.22)" font-family="Liberation Mono, monospace" font-size="20" fill="#1f2b3d" textLength="108" lengthAdjust="spacingAndGlyphs">INSIDE_UD</text>
<text transform="translate(1063,1306) scale(1,1.22)" font-family="Liberation Mono, monospace" font-size="20" fill="#1f2b3d" textLength="60" lengthAdjust="spacingAndGlyphs">KD_UD</text>
<text transform="translate(1155,1306) scale(1,1.22)" font-family="Liberation Mono, monospace" font-size="20" fill="#1f2b3d" textLength="72" lengthAdjust="spacingAndGlyphs">KDJ_UD</text>
<text transform="translate(1259,1306) scale(1,1.22)" font-family="Liberation Mono, monospace" font-size="20" fill="#1f2b3d" textLength="60" lengthAdjust="spacingAndGlyphs">MA_UD</text>
<text transform="translate(1351,1306) scale(1,1.22)" font-family="Liberation Mono, monospace" font-size="20" fill="#1f2b3d" textLength="84" lengthAdjust="spacingAndGlyphs">MACD_UD</text>
<text transform="translate(1467,1306) scale(1,1.22)" font-family="Liberation Mono, monospace" font-size="20" fill="#1f2b3d" textLength="72" lengthAdjust="spacingAndGlyphs">MTM_UD</text>
<text transform="translate(1571,1306) scale(1,1.22)" font-family="Liberation Mono, monospace" font-size="20" fill="#1f2b3d" textLength="120" lengthAdjust="spacingAndGlyphs">OUTSIDE_UD</text>
<text transform="translate(1723,1306) scale(1,1.22)" font-family="Liberation Mono, monospace" font-size="20" fill="#1f2b3d" textLength="24" lengthAdjust="spacingAndGlyphs">&gt;&gt;</text>
<rect x="1933" y="1260" width="32.5" height="32.5" rx="4" fill="#c9b29f" opacity="0.55"/>
<rect x="1932" y="1259" width="32.3" height="31.8" rx="3.5" fill="#ff7f0e"/>
<circle cx="1948.1" cy="1275" r="12.4" fill="#fff"/><circle cx="1951.2" cy="1272.4" r="7.1" fill="#ff7f0e"/>
<path d="M1936.6 1280 Q1937.5 1265.5 1954.5 1264.6" fill="none" stroke="#ff7f0e" stroke-width="1.1"/>
<text x="1971.3 1993.6 2015.9" y="1280" font-size="20.5" font-weight="bold" fill="#dccabd" font-family="&quot;Liberation Sans&quot;, &quot;Noto Sans CJK SC&quot;, sans-serif">汇金网</text>
<text x="1970.3 1992.6 2014.9" y="1279" font-size="20.5" font-weight="bold" fill="#fbe6d8" font-family="&quot;Liberation Sans&quot;, &quot;Noto Sans CJK SC&quot;, sans-serif">汇金网</text>
<text x="1971" y="1290.6" font-size="7.5" fill="#ecd9cc" textLength="64" lengthAdjust="spacingAndGlyphs" font-weight="bold" >www.gold678.com</text>
</svg>
</body></html>
